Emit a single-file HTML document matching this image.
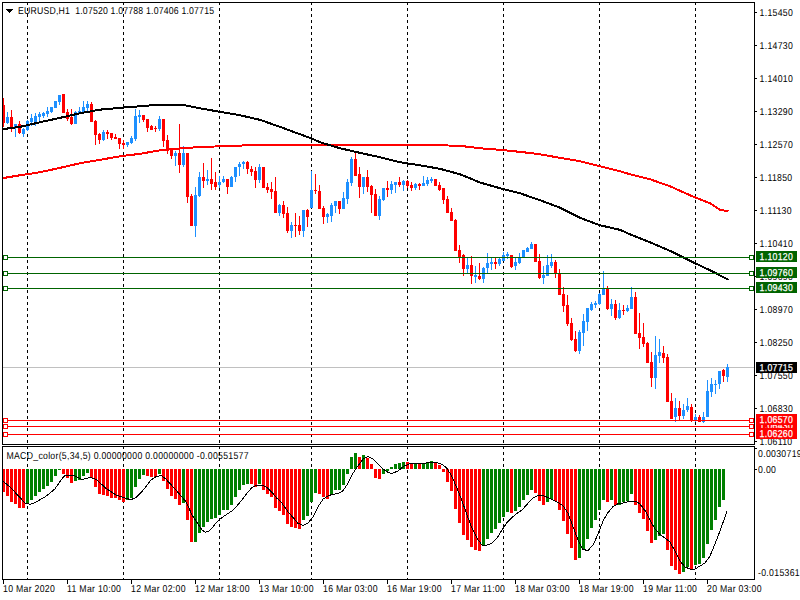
<!DOCTYPE html>
<html><head><meta charset="utf-8"><style>
html,body{margin:0;padding:0;background:#fff;width:800px;height:600px;overflow:hidden}
svg{display:block}
text{font-family:"Liberation Sans",sans-serif}
</style></head><body>
<svg width="800" height="600" viewBox="0 0 800 600" shape-rendering="crispEdges">
<rect x="0" y="0" width="800" height="600" fill="#fff"/>
<rect x="27" y="3" width="1" height="2" fill="#000"/>
<rect x="27" y="8" width="1" height="3" fill="#000"/>
<rect x="27" y="14" width="1" height="3" fill="#000"/>
<rect x="27" y="20" width="1" height="3" fill="#000"/>
<rect x="27" y="26" width="1" height="3" fill="#000"/>
<rect x="27" y="32" width="1" height="3" fill="#000"/>
<rect x="27" y="38" width="1" height="3" fill="#000"/>
<rect x="27" y="44" width="1" height="3" fill="#000"/>
<rect x="27" y="50" width="1" height="3" fill="#000"/>
<rect x="27" y="56" width="1" height="3" fill="#000"/>
<rect x="27" y="62" width="1" height="3" fill="#000"/>
<rect x="27" y="68" width="1" height="3" fill="#000"/>
<rect x="27" y="74" width="1" height="3" fill="#000"/>
<rect x="27" y="80" width="1" height="3" fill="#000"/>
<rect x="27" y="86" width="1" height="3" fill="#000"/>
<rect x="27" y="92" width="1" height="3" fill="#000"/>
<rect x="27" y="98" width="1" height="3" fill="#000"/>
<rect x="27" y="104" width="1" height="3" fill="#000"/>
<rect x="27" y="110" width="1" height="3" fill="#000"/>
<rect x="27" y="116" width="1" height="3" fill="#000"/>
<rect x="27" y="122" width="1" height="3" fill="#000"/>
<rect x="27" y="128" width="1" height="3" fill="#000"/>
<rect x="27" y="134" width="1" height="3" fill="#000"/>
<rect x="27" y="140" width="1" height="3" fill="#000"/>
<rect x="27" y="146" width="1" height="3" fill="#000"/>
<rect x="27" y="152" width="1" height="3" fill="#000"/>
<rect x="27" y="158" width="1" height="3" fill="#000"/>
<rect x="27" y="164" width="1" height="3" fill="#000"/>
<rect x="27" y="170" width="1" height="3" fill="#000"/>
<rect x="27" y="176" width="1" height="3" fill="#000"/>
<rect x="27" y="182" width="1" height="3" fill="#000"/>
<rect x="27" y="188" width="1" height="3" fill="#000"/>
<rect x="27" y="194" width="1" height="3" fill="#000"/>
<rect x="27" y="200" width="1" height="3" fill="#000"/>
<rect x="27" y="206" width="1" height="3" fill="#000"/>
<rect x="27" y="212" width="1" height="3" fill="#000"/>
<rect x="27" y="218" width="1" height="3" fill="#000"/>
<rect x="27" y="224" width="1" height="3" fill="#000"/>
<rect x="27" y="230" width="1" height="3" fill="#000"/>
<rect x="27" y="236" width="1" height="3" fill="#000"/>
<rect x="27" y="242" width="1" height="3" fill="#000"/>
<rect x="27" y="248" width="1" height="3" fill="#000"/>
<rect x="27" y="254" width="1" height="3" fill="#000"/>
<rect x="27" y="260" width="1" height="3" fill="#000"/>
<rect x="27" y="266" width="1" height="3" fill="#000"/>
<rect x="27" y="272" width="1" height="3" fill="#000"/>
<rect x="27" y="278" width="1" height="3" fill="#000"/>
<rect x="27" y="284" width="1" height="3" fill="#000"/>
<rect x="27" y="290" width="1" height="3" fill="#000"/>
<rect x="27" y="296" width="1" height="3" fill="#000"/>
<rect x="27" y="302" width="1" height="3" fill="#000"/>
<rect x="27" y="308" width="1" height="3" fill="#000"/>
<rect x="27" y="314" width="1" height="3" fill="#000"/>
<rect x="27" y="320" width="1" height="3" fill="#000"/>
<rect x="27" y="326" width="1" height="3" fill="#000"/>
<rect x="27" y="332" width="1" height="3" fill="#000"/>
<rect x="27" y="338" width="1" height="3" fill="#000"/>
<rect x="27" y="344" width="1" height="3" fill="#000"/>
<rect x="27" y="350" width="1" height="3" fill="#000"/>
<rect x="27" y="356" width="1" height="3" fill="#000"/>
<rect x="27" y="362" width="1" height="3" fill="#000"/>
<rect x="27" y="368" width="1" height="3" fill="#000"/>
<rect x="27" y="374" width="1" height="3" fill="#000"/>
<rect x="27" y="380" width="1" height="3" fill="#000"/>
<rect x="27" y="386" width="1" height="3" fill="#000"/>
<rect x="27" y="392" width="1" height="3" fill="#000"/>
<rect x="27" y="398" width="1" height="3" fill="#000"/>
<rect x="27" y="404" width="1" height="3" fill="#000"/>
<rect x="27" y="410" width="1" height="3" fill="#000"/>
<rect x="27" y="416" width="1" height="3" fill="#000"/>
<rect x="27" y="422" width="1" height="3" fill="#000"/>
<rect x="27" y="428" width="1" height="3" fill="#000"/>
<rect x="27" y="434" width="1" height="3" fill="#000"/>
<rect x="27" y="440" width="1" height="3" fill="#000"/>
<rect x="27" y="447" width="1" height="2" fill="#000"/>
<rect x="27" y="452" width="1" height="3" fill="#000"/>
<rect x="27" y="458" width="1" height="3" fill="#000"/>
<rect x="27" y="464" width="1" height="3" fill="#000"/>
<rect x="27" y="470" width="1" height="3" fill="#000"/>
<rect x="27" y="476" width="1" height="3" fill="#000"/>
<rect x="27" y="482" width="1" height="3" fill="#000"/>
<rect x="27" y="488" width="1" height="3" fill="#000"/>
<rect x="27" y="494" width="1" height="3" fill="#000"/>
<rect x="27" y="500" width="1" height="3" fill="#000"/>
<rect x="27" y="506" width="1" height="3" fill="#000"/>
<rect x="27" y="512" width="1" height="3" fill="#000"/>
<rect x="27" y="518" width="1" height="3" fill="#000"/>
<rect x="27" y="524" width="1" height="3" fill="#000"/>
<rect x="27" y="530" width="1" height="3" fill="#000"/>
<rect x="27" y="536" width="1" height="3" fill="#000"/>
<rect x="27" y="542" width="1" height="3" fill="#000"/>
<rect x="27" y="548" width="1" height="3" fill="#000"/>
<rect x="27" y="554" width="1" height="3" fill="#000"/>
<rect x="27" y="560" width="1" height="3" fill="#000"/>
<rect x="27" y="566" width="1" height="3" fill="#000"/>
<rect x="27" y="572" width="1" height="3" fill="#000"/>
<rect x="27" y="578" width="1" height="1" fill="#000"/>
<rect x="123" y="3" width="1" height="2" fill="#000"/>
<rect x="123" y="8" width="1" height="3" fill="#000"/>
<rect x="123" y="14" width="1" height="3" fill="#000"/>
<rect x="123" y="20" width="1" height="3" fill="#000"/>
<rect x="123" y="26" width="1" height="3" fill="#000"/>
<rect x="123" y="32" width="1" height="3" fill="#000"/>
<rect x="123" y="38" width="1" height="3" fill="#000"/>
<rect x="123" y="44" width="1" height="3" fill="#000"/>
<rect x="123" y="50" width="1" height="3" fill="#000"/>
<rect x="123" y="56" width="1" height="3" fill="#000"/>
<rect x="123" y="62" width="1" height="3" fill="#000"/>
<rect x="123" y="68" width="1" height="3" fill="#000"/>
<rect x="123" y="74" width="1" height="3" fill="#000"/>
<rect x="123" y="80" width="1" height="3" fill="#000"/>
<rect x="123" y="86" width="1" height="3" fill="#000"/>
<rect x="123" y="92" width="1" height="3" fill="#000"/>
<rect x="123" y="98" width="1" height="3" fill="#000"/>
<rect x="123" y="104" width="1" height="3" fill="#000"/>
<rect x="123" y="110" width="1" height="3" fill="#000"/>
<rect x="123" y="116" width="1" height="3" fill="#000"/>
<rect x="123" y="122" width="1" height="3" fill="#000"/>
<rect x="123" y="128" width="1" height="3" fill="#000"/>
<rect x="123" y="134" width="1" height="3" fill="#000"/>
<rect x="123" y="140" width="1" height="3" fill="#000"/>
<rect x="123" y="146" width="1" height="3" fill="#000"/>
<rect x="123" y="152" width="1" height="3" fill="#000"/>
<rect x="123" y="158" width="1" height="3" fill="#000"/>
<rect x="123" y="164" width="1" height="3" fill="#000"/>
<rect x="123" y="170" width="1" height="3" fill="#000"/>
<rect x="123" y="176" width="1" height="3" fill="#000"/>
<rect x="123" y="182" width="1" height="3" fill="#000"/>
<rect x="123" y="188" width="1" height="3" fill="#000"/>
<rect x="123" y="194" width="1" height="3" fill="#000"/>
<rect x="123" y="200" width="1" height="3" fill="#000"/>
<rect x="123" y="206" width="1" height="3" fill="#000"/>
<rect x="123" y="212" width="1" height="3" fill="#000"/>
<rect x="123" y="218" width="1" height="3" fill="#000"/>
<rect x="123" y="224" width="1" height="3" fill="#000"/>
<rect x="123" y="230" width="1" height="3" fill="#000"/>
<rect x="123" y="236" width="1" height="3" fill="#000"/>
<rect x="123" y="242" width="1" height="3" fill="#000"/>
<rect x="123" y="248" width="1" height="3" fill="#000"/>
<rect x="123" y="254" width="1" height="3" fill="#000"/>
<rect x="123" y="260" width="1" height="3" fill="#000"/>
<rect x="123" y="266" width="1" height="3" fill="#000"/>
<rect x="123" y="272" width="1" height="3" fill="#000"/>
<rect x="123" y="278" width="1" height="3" fill="#000"/>
<rect x="123" y="284" width="1" height="3" fill="#000"/>
<rect x="123" y="290" width="1" height="3" fill="#000"/>
<rect x="123" y="296" width="1" height="3" fill="#000"/>
<rect x="123" y="302" width="1" height="3" fill="#000"/>
<rect x="123" y="308" width="1" height="3" fill="#000"/>
<rect x="123" y="314" width="1" height="3" fill="#000"/>
<rect x="123" y="320" width="1" height="3" fill="#000"/>
<rect x="123" y="326" width="1" height="3" fill="#000"/>
<rect x="123" y="332" width="1" height="3" fill="#000"/>
<rect x="123" y="338" width="1" height="3" fill="#000"/>
<rect x="123" y="344" width="1" height="3" fill="#000"/>
<rect x="123" y="350" width="1" height="3" fill="#000"/>
<rect x="123" y="356" width="1" height="3" fill="#000"/>
<rect x="123" y="362" width="1" height="3" fill="#000"/>
<rect x="123" y="368" width="1" height="3" fill="#000"/>
<rect x="123" y="374" width="1" height="3" fill="#000"/>
<rect x="123" y="380" width="1" height="3" fill="#000"/>
<rect x="123" y="386" width="1" height="3" fill="#000"/>
<rect x="123" y="392" width="1" height="3" fill="#000"/>
<rect x="123" y="398" width="1" height="3" fill="#000"/>
<rect x="123" y="404" width="1" height="3" fill="#000"/>
<rect x="123" y="410" width="1" height="3" fill="#000"/>
<rect x="123" y="416" width="1" height="3" fill="#000"/>
<rect x="123" y="422" width="1" height="3" fill="#000"/>
<rect x="123" y="428" width="1" height="3" fill="#000"/>
<rect x="123" y="434" width="1" height="3" fill="#000"/>
<rect x="123" y="440" width="1" height="3" fill="#000"/>
<rect x="123" y="447" width="1" height="2" fill="#000"/>
<rect x="123" y="452" width="1" height="3" fill="#000"/>
<rect x="123" y="458" width="1" height="3" fill="#000"/>
<rect x="123" y="464" width="1" height="3" fill="#000"/>
<rect x="123" y="470" width="1" height="3" fill="#000"/>
<rect x="123" y="476" width="1" height="3" fill="#000"/>
<rect x="123" y="482" width="1" height="3" fill="#000"/>
<rect x="123" y="488" width="1" height="3" fill="#000"/>
<rect x="123" y="494" width="1" height="3" fill="#000"/>
<rect x="123" y="500" width="1" height="3" fill="#000"/>
<rect x="123" y="506" width="1" height="3" fill="#000"/>
<rect x="123" y="512" width="1" height="3" fill="#000"/>
<rect x="123" y="518" width="1" height="3" fill="#000"/>
<rect x="123" y="524" width="1" height="3" fill="#000"/>
<rect x="123" y="530" width="1" height="3" fill="#000"/>
<rect x="123" y="536" width="1" height="3" fill="#000"/>
<rect x="123" y="542" width="1" height="3" fill="#000"/>
<rect x="123" y="548" width="1" height="3" fill="#000"/>
<rect x="123" y="554" width="1" height="3" fill="#000"/>
<rect x="123" y="560" width="1" height="3" fill="#000"/>
<rect x="123" y="566" width="1" height="3" fill="#000"/>
<rect x="123" y="572" width="1" height="3" fill="#000"/>
<rect x="123" y="578" width="1" height="1" fill="#000"/>
<rect x="219" y="3" width="1" height="2" fill="#000"/>
<rect x="219" y="8" width="1" height="3" fill="#000"/>
<rect x="219" y="14" width="1" height="3" fill="#000"/>
<rect x="219" y="20" width="1" height="3" fill="#000"/>
<rect x="219" y="26" width="1" height="3" fill="#000"/>
<rect x="219" y="32" width="1" height="3" fill="#000"/>
<rect x="219" y="38" width="1" height="3" fill="#000"/>
<rect x="219" y="44" width="1" height="3" fill="#000"/>
<rect x="219" y="50" width="1" height="3" fill="#000"/>
<rect x="219" y="56" width="1" height="3" fill="#000"/>
<rect x="219" y="62" width="1" height="3" fill="#000"/>
<rect x="219" y="68" width="1" height="3" fill="#000"/>
<rect x="219" y="74" width="1" height="3" fill="#000"/>
<rect x="219" y="80" width="1" height="3" fill="#000"/>
<rect x="219" y="86" width="1" height="3" fill="#000"/>
<rect x="219" y="92" width="1" height="3" fill="#000"/>
<rect x="219" y="98" width="1" height="3" fill="#000"/>
<rect x="219" y="104" width="1" height="3" fill="#000"/>
<rect x="219" y="110" width="1" height="3" fill="#000"/>
<rect x="219" y="116" width="1" height="3" fill="#000"/>
<rect x="219" y="122" width="1" height="3" fill="#000"/>
<rect x="219" y="128" width="1" height="3" fill="#000"/>
<rect x="219" y="134" width="1" height="3" fill="#000"/>
<rect x="219" y="140" width="1" height="3" fill="#000"/>
<rect x="219" y="146" width="1" height="3" fill="#000"/>
<rect x="219" y="152" width="1" height="3" fill="#000"/>
<rect x="219" y="158" width="1" height="3" fill="#000"/>
<rect x="219" y="164" width="1" height="3" fill="#000"/>
<rect x="219" y="170" width="1" height="3" fill="#000"/>
<rect x="219" y="176" width="1" height="3" fill="#000"/>
<rect x="219" y="182" width="1" height="3" fill="#000"/>
<rect x="219" y="188" width="1" height="3" fill="#000"/>
<rect x="219" y="194" width="1" height="3" fill="#000"/>
<rect x="219" y="200" width="1" height="3" fill="#000"/>
<rect x="219" y="206" width="1" height="3" fill="#000"/>
<rect x="219" y="212" width="1" height="3" fill="#000"/>
<rect x="219" y="218" width="1" height="3" fill="#000"/>
<rect x="219" y="224" width="1" height="3" fill="#000"/>
<rect x="219" y="230" width="1" height="3" fill="#000"/>
<rect x="219" y="236" width="1" height="3" fill="#000"/>
<rect x="219" y="242" width="1" height="3" fill="#000"/>
<rect x="219" y="248" width="1" height="3" fill="#000"/>
<rect x="219" y="254" width="1" height="3" fill="#000"/>
<rect x="219" y="260" width="1" height="3" fill="#000"/>
<rect x="219" y="266" width="1" height="3" fill="#000"/>
<rect x="219" y="272" width="1" height="3" fill="#000"/>
<rect x="219" y="278" width="1" height="3" fill="#000"/>
<rect x="219" y="284" width="1" height="3" fill="#000"/>
<rect x="219" y="290" width="1" height="3" fill="#000"/>
<rect x="219" y="296" width="1" height="3" fill="#000"/>
<rect x="219" y="302" width="1" height="3" fill="#000"/>
<rect x="219" y="308" width="1" height="3" fill="#000"/>
<rect x="219" y="314" width="1" height="3" fill="#000"/>
<rect x="219" y="320" width="1" height="3" fill="#000"/>
<rect x="219" y="326" width="1" height="3" fill="#000"/>
<rect x="219" y="332" width="1" height="3" fill="#000"/>
<rect x="219" y="338" width="1" height="3" fill="#000"/>
<rect x="219" y="344" width="1" height="3" fill="#000"/>
<rect x="219" y="350" width="1" height="3" fill="#000"/>
<rect x="219" y="356" width="1" height="3" fill="#000"/>
<rect x="219" y="362" width="1" height="3" fill="#000"/>
<rect x="219" y="368" width="1" height="3" fill="#000"/>
<rect x="219" y="374" width="1" height="3" fill="#000"/>
<rect x="219" y="380" width="1" height="3" fill="#000"/>
<rect x="219" y="386" width="1" height="3" fill="#000"/>
<rect x="219" y="392" width="1" height="3" fill="#000"/>
<rect x="219" y="398" width="1" height="3" fill="#000"/>
<rect x="219" y="404" width="1" height="3" fill="#000"/>
<rect x="219" y="410" width="1" height="3" fill="#000"/>
<rect x="219" y="416" width="1" height="3" fill="#000"/>
<rect x="219" y="422" width="1" height="3" fill="#000"/>
<rect x="219" y="428" width="1" height="3" fill="#000"/>
<rect x="219" y="434" width="1" height="3" fill="#000"/>
<rect x="219" y="440" width="1" height="3" fill="#000"/>
<rect x="219" y="447" width="1" height="2" fill="#000"/>
<rect x="219" y="452" width="1" height="3" fill="#000"/>
<rect x="219" y="458" width="1" height="3" fill="#000"/>
<rect x="219" y="464" width="1" height="3" fill="#000"/>
<rect x="219" y="470" width="1" height="3" fill="#000"/>
<rect x="219" y="476" width="1" height="3" fill="#000"/>
<rect x="219" y="482" width="1" height="3" fill="#000"/>
<rect x="219" y="488" width="1" height="3" fill="#000"/>
<rect x="219" y="494" width="1" height="3" fill="#000"/>
<rect x="219" y="500" width="1" height="3" fill="#000"/>
<rect x="219" y="506" width="1" height="3" fill="#000"/>
<rect x="219" y="512" width="1" height="3" fill="#000"/>
<rect x="219" y="518" width="1" height="3" fill="#000"/>
<rect x="219" y="524" width="1" height="3" fill="#000"/>
<rect x="219" y="530" width="1" height="3" fill="#000"/>
<rect x="219" y="536" width="1" height="3" fill="#000"/>
<rect x="219" y="542" width="1" height="3" fill="#000"/>
<rect x="219" y="548" width="1" height="3" fill="#000"/>
<rect x="219" y="554" width="1" height="3" fill="#000"/>
<rect x="219" y="560" width="1" height="3" fill="#000"/>
<rect x="219" y="566" width="1" height="3" fill="#000"/>
<rect x="219" y="572" width="1" height="3" fill="#000"/>
<rect x="219" y="578" width="1" height="1" fill="#000"/>
<rect x="311" y="3" width="1" height="2" fill="#000"/>
<rect x="311" y="8" width="1" height="3" fill="#000"/>
<rect x="311" y="14" width="1" height="3" fill="#000"/>
<rect x="311" y="20" width="1" height="3" fill="#000"/>
<rect x="311" y="26" width="1" height="3" fill="#000"/>
<rect x="311" y="32" width="1" height="3" fill="#000"/>
<rect x="311" y="38" width="1" height="3" fill="#000"/>
<rect x="311" y="44" width="1" height="3" fill="#000"/>
<rect x="311" y="50" width="1" height="3" fill="#000"/>
<rect x="311" y="56" width="1" height="3" fill="#000"/>
<rect x="311" y="62" width="1" height="3" fill="#000"/>
<rect x="311" y="68" width="1" height="3" fill="#000"/>
<rect x="311" y="74" width="1" height="3" fill="#000"/>
<rect x="311" y="80" width="1" height="3" fill="#000"/>
<rect x="311" y="86" width="1" height="3" fill="#000"/>
<rect x="311" y="92" width="1" height="3" fill="#000"/>
<rect x="311" y="98" width="1" height="3" fill="#000"/>
<rect x="311" y="104" width="1" height="3" fill="#000"/>
<rect x="311" y="110" width="1" height="3" fill="#000"/>
<rect x="311" y="116" width="1" height="3" fill="#000"/>
<rect x="311" y="122" width="1" height="3" fill="#000"/>
<rect x="311" y="128" width="1" height="3" fill="#000"/>
<rect x="311" y="134" width="1" height="3" fill="#000"/>
<rect x="311" y="140" width="1" height="3" fill="#000"/>
<rect x="311" y="146" width="1" height="3" fill="#000"/>
<rect x="311" y="152" width="1" height="3" fill="#000"/>
<rect x="311" y="158" width="1" height="3" fill="#000"/>
<rect x="311" y="164" width="1" height="3" fill="#000"/>
<rect x="311" y="170" width="1" height="3" fill="#000"/>
<rect x="311" y="176" width="1" height="3" fill="#000"/>
<rect x="311" y="182" width="1" height="3" fill="#000"/>
<rect x="311" y="188" width="1" height="3" fill="#000"/>
<rect x="311" y="194" width="1" height="3" fill="#000"/>
<rect x="311" y="200" width="1" height="3" fill="#000"/>
<rect x="311" y="206" width="1" height="3" fill="#000"/>
<rect x="311" y="212" width="1" height="3" fill="#000"/>
<rect x="311" y="218" width="1" height="3" fill="#000"/>
<rect x="311" y="224" width="1" height="3" fill="#000"/>
<rect x="311" y="230" width="1" height="3" fill="#000"/>
<rect x="311" y="236" width="1" height="3" fill="#000"/>
<rect x="311" y="242" width="1" height="3" fill="#000"/>
<rect x="311" y="248" width="1" height="3" fill="#000"/>
<rect x="311" y="254" width="1" height="3" fill="#000"/>
<rect x="311" y="260" width="1" height="3" fill="#000"/>
<rect x="311" y="266" width="1" height="3" fill="#000"/>
<rect x="311" y="272" width="1" height="3" fill="#000"/>
<rect x="311" y="278" width="1" height="3" fill="#000"/>
<rect x="311" y="284" width="1" height="3" fill="#000"/>
<rect x="311" y="290" width="1" height="3" fill="#000"/>
<rect x="311" y="296" width="1" height="3" fill="#000"/>
<rect x="311" y="302" width="1" height="3" fill="#000"/>
<rect x="311" y="308" width="1" height="3" fill="#000"/>
<rect x="311" y="314" width="1" height="3" fill="#000"/>
<rect x="311" y="320" width="1" height="3" fill="#000"/>
<rect x="311" y="326" width="1" height="3" fill="#000"/>
<rect x="311" y="332" width="1" height="3" fill="#000"/>
<rect x="311" y="338" width="1" height="3" fill="#000"/>
<rect x="311" y="344" width="1" height="3" fill="#000"/>
<rect x="311" y="350" width="1" height="3" fill="#000"/>
<rect x="311" y="356" width="1" height="3" fill="#000"/>
<rect x="311" y="362" width="1" height="3" fill="#000"/>
<rect x="311" y="368" width="1" height="3" fill="#000"/>
<rect x="311" y="374" width="1" height="3" fill="#000"/>
<rect x="311" y="380" width="1" height="3" fill="#000"/>
<rect x="311" y="386" width="1" height="3" fill="#000"/>
<rect x="311" y="392" width="1" height="3" fill="#000"/>
<rect x="311" y="398" width="1" height="3" fill="#000"/>
<rect x="311" y="404" width="1" height="3" fill="#000"/>
<rect x="311" y="410" width="1" height="3" fill="#000"/>
<rect x="311" y="416" width="1" height="3" fill="#000"/>
<rect x="311" y="422" width="1" height="3" fill="#000"/>
<rect x="311" y="428" width="1" height="3" fill="#000"/>
<rect x="311" y="434" width="1" height="3" fill="#000"/>
<rect x="311" y="440" width="1" height="3" fill="#000"/>
<rect x="311" y="447" width="1" height="2" fill="#000"/>
<rect x="311" y="452" width="1" height="3" fill="#000"/>
<rect x="311" y="458" width="1" height="3" fill="#000"/>
<rect x="311" y="464" width="1" height="3" fill="#000"/>
<rect x="311" y="470" width="1" height="3" fill="#000"/>
<rect x="311" y="476" width="1" height="3" fill="#000"/>
<rect x="311" y="482" width="1" height="3" fill="#000"/>
<rect x="311" y="488" width="1" height="3" fill="#000"/>
<rect x="311" y="494" width="1" height="3" fill="#000"/>
<rect x="311" y="500" width="1" height="3" fill="#000"/>
<rect x="311" y="506" width="1" height="3" fill="#000"/>
<rect x="311" y="512" width="1" height="3" fill="#000"/>
<rect x="311" y="518" width="1" height="3" fill="#000"/>
<rect x="311" y="524" width="1" height="3" fill="#000"/>
<rect x="311" y="530" width="1" height="3" fill="#000"/>
<rect x="311" y="536" width="1" height="3" fill="#000"/>
<rect x="311" y="542" width="1" height="3" fill="#000"/>
<rect x="311" y="548" width="1" height="3" fill="#000"/>
<rect x="311" y="554" width="1" height="3" fill="#000"/>
<rect x="311" y="560" width="1" height="3" fill="#000"/>
<rect x="311" y="566" width="1" height="3" fill="#000"/>
<rect x="311" y="572" width="1" height="3" fill="#000"/>
<rect x="311" y="578" width="1" height="1" fill="#000"/>
<rect x="407" y="3" width="1" height="2" fill="#000"/>
<rect x="407" y="8" width="1" height="3" fill="#000"/>
<rect x="407" y="14" width="1" height="3" fill="#000"/>
<rect x="407" y="20" width="1" height="3" fill="#000"/>
<rect x="407" y="26" width="1" height="3" fill="#000"/>
<rect x="407" y="32" width="1" height="3" fill="#000"/>
<rect x="407" y="38" width="1" height="3" fill="#000"/>
<rect x="407" y="44" width="1" height="3" fill="#000"/>
<rect x="407" y="50" width="1" height="3" fill="#000"/>
<rect x="407" y="56" width="1" height="3" fill="#000"/>
<rect x="407" y="62" width="1" height="3" fill="#000"/>
<rect x="407" y="68" width="1" height="3" fill="#000"/>
<rect x="407" y="74" width="1" height="3" fill="#000"/>
<rect x="407" y="80" width="1" height="3" fill="#000"/>
<rect x="407" y="86" width="1" height="3" fill="#000"/>
<rect x="407" y="92" width="1" height="3" fill="#000"/>
<rect x="407" y="98" width="1" height="3" fill="#000"/>
<rect x="407" y="104" width="1" height="3" fill="#000"/>
<rect x="407" y="110" width="1" height="3" fill="#000"/>
<rect x="407" y="116" width="1" height="3" fill="#000"/>
<rect x="407" y="122" width="1" height="3" fill="#000"/>
<rect x="407" y="128" width="1" height="3" fill="#000"/>
<rect x="407" y="134" width="1" height="3" fill="#000"/>
<rect x="407" y="140" width="1" height="3" fill="#000"/>
<rect x="407" y="146" width="1" height="3" fill="#000"/>
<rect x="407" y="152" width="1" height="3" fill="#000"/>
<rect x="407" y="158" width="1" height="3" fill="#000"/>
<rect x="407" y="164" width="1" height="3" fill="#000"/>
<rect x="407" y="170" width="1" height="3" fill="#000"/>
<rect x="407" y="176" width="1" height="3" fill="#000"/>
<rect x="407" y="182" width="1" height="3" fill="#000"/>
<rect x="407" y="188" width="1" height="3" fill="#000"/>
<rect x="407" y="194" width="1" height="3" fill="#000"/>
<rect x="407" y="200" width="1" height="3" fill="#000"/>
<rect x="407" y="206" width="1" height="3" fill="#000"/>
<rect x="407" y="212" width="1" height="3" fill="#000"/>
<rect x="407" y="218" width="1" height="3" fill="#000"/>
<rect x="407" y="224" width="1" height="3" fill="#000"/>
<rect x="407" y="230" width="1" height="3" fill="#000"/>
<rect x="407" y="236" width="1" height="3" fill="#000"/>
<rect x="407" y="242" width="1" height="3" fill="#000"/>
<rect x="407" y="248" width="1" height="3" fill="#000"/>
<rect x="407" y="254" width="1" height="3" fill="#000"/>
<rect x="407" y="260" width="1" height="3" fill="#000"/>
<rect x="407" y="266" width="1" height="3" fill="#000"/>
<rect x="407" y="272" width="1" height="3" fill="#000"/>
<rect x="407" y="278" width="1" height="3" fill="#000"/>
<rect x="407" y="284" width="1" height="3" fill="#000"/>
<rect x="407" y="290" width="1" height="3" fill="#000"/>
<rect x="407" y="296" width="1" height="3" fill="#000"/>
<rect x="407" y="302" width="1" height="3" fill="#000"/>
<rect x="407" y="308" width="1" height="3" fill="#000"/>
<rect x="407" y="314" width="1" height="3" fill="#000"/>
<rect x="407" y="320" width="1" height="3" fill="#000"/>
<rect x="407" y="326" width="1" height="3" fill="#000"/>
<rect x="407" y="332" width="1" height="3" fill="#000"/>
<rect x="407" y="338" width="1" height="3" fill="#000"/>
<rect x="407" y="344" width="1" height="3" fill="#000"/>
<rect x="407" y="350" width="1" height="3" fill="#000"/>
<rect x="407" y="356" width="1" height="3" fill="#000"/>
<rect x="407" y="362" width="1" height="3" fill="#000"/>
<rect x="407" y="368" width="1" height="3" fill="#000"/>
<rect x="407" y="374" width="1" height="3" fill="#000"/>
<rect x="407" y="380" width="1" height="3" fill="#000"/>
<rect x="407" y="386" width="1" height="3" fill="#000"/>
<rect x="407" y="392" width="1" height="3" fill="#000"/>
<rect x="407" y="398" width="1" height="3" fill="#000"/>
<rect x="407" y="404" width="1" height="3" fill="#000"/>
<rect x="407" y="410" width="1" height="3" fill="#000"/>
<rect x="407" y="416" width="1" height="3" fill="#000"/>
<rect x="407" y="422" width="1" height="3" fill="#000"/>
<rect x="407" y="428" width="1" height="3" fill="#000"/>
<rect x="407" y="434" width="1" height="3" fill="#000"/>
<rect x="407" y="440" width="1" height="3" fill="#000"/>
<rect x="407" y="447" width="1" height="2" fill="#000"/>
<rect x="407" y="452" width="1" height="3" fill="#000"/>
<rect x="407" y="458" width="1" height="3" fill="#000"/>
<rect x="407" y="464" width="1" height="3" fill="#000"/>
<rect x="407" y="470" width="1" height="3" fill="#000"/>
<rect x="407" y="476" width="1" height="3" fill="#000"/>
<rect x="407" y="482" width="1" height="3" fill="#000"/>
<rect x="407" y="488" width="1" height="3" fill="#000"/>
<rect x="407" y="494" width="1" height="3" fill="#000"/>
<rect x="407" y="500" width="1" height="3" fill="#000"/>
<rect x="407" y="506" width="1" height="3" fill="#000"/>
<rect x="407" y="512" width="1" height="3" fill="#000"/>
<rect x="407" y="518" width="1" height="3" fill="#000"/>
<rect x="407" y="524" width="1" height="3" fill="#000"/>
<rect x="407" y="530" width="1" height="3" fill="#000"/>
<rect x="407" y="536" width="1" height="3" fill="#000"/>
<rect x="407" y="542" width="1" height="3" fill="#000"/>
<rect x="407" y="548" width="1" height="3" fill="#000"/>
<rect x="407" y="554" width="1" height="3" fill="#000"/>
<rect x="407" y="560" width="1" height="3" fill="#000"/>
<rect x="407" y="566" width="1" height="3" fill="#000"/>
<rect x="407" y="572" width="1" height="3" fill="#000"/>
<rect x="407" y="578" width="1" height="1" fill="#000"/>
<rect x="503" y="3" width="1" height="2" fill="#000"/>
<rect x="503" y="8" width="1" height="3" fill="#000"/>
<rect x="503" y="14" width="1" height="3" fill="#000"/>
<rect x="503" y="20" width="1" height="3" fill="#000"/>
<rect x="503" y="26" width="1" height="3" fill="#000"/>
<rect x="503" y="32" width="1" height="3" fill="#000"/>
<rect x="503" y="38" width="1" height="3" fill="#000"/>
<rect x="503" y="44" width="1" height="3" fill="#000"/>
<rect x="503" y="50" width="1" height="3" fill="#000"/>
<rect x="503" y="56" width="1" height="3" fill="#000"/>
<rect x="503" y="62" width="1" height="3" fill="#000"/>
<rect x="503" y="68" width="1" height="3" fill="#000"/>
<rect x="503" y="74" width="1" height="3" fill="#000"/>
<rect x="503" y="80" width="1" height="3" fill="#000"/>
<rect x="503" y="86" width="1" height="3" fill="#000"/>
<rect x="503" y="92" width="1" height="3" fill="#000"/>
<rect x="503" y="98" width="1" height="3" fill="#000"/>
<rect x="503" y="104" width="1" height="3" fill="#000"/>
<rect x="503" y="110" width="1" height="3" fill="#000"/>
<rect x="503" y="116" width="1" height="3" fill="#000"/>
<rect x="503" y="122" width="1" height="3" fill="#000"/>
<rect x="503" y="128" width="1" height="3" fill="#000"/>
<rect x="503" y="134" width="1" height="3" fill="#000"/>
<rect x="503" y="140" width="1" height="3" fill="#000"/>
<rect x="503" y="146" width="1" height="3" fill="#000"/>
<rect x="503" y="152" width="1" height="3" fill="#000"/>
<rect x="503" y="158" width="1" height="3" fill="#000"/>
<rect x="503" y="164" width="1" height="3" fill="#000"/>
<rect x="503" y="170" width="1" height="3" fill="#000"/>
<rect x="503" y="176" width="1" height="3" fill="#000"/>
<rect x="503" y="182" width="1" height="3" fill="#000"/>
<rect x="503" y="188" width="1" height="3" fill="#000"/>
<rect x="503" y="194" width="1" height="3" fill="#000"/>
<rect x="503" y="200" width="1" height="3" fill="#000"/>
<rect x="503" y="206" width="1" height="3" fill="#000"/>
<rect x="503" y="212" width="1" height="3" fill="#000"/>
<rect x="503" y="218" width="1" height="3" fill="#000"/>
<rect x="503" y="224" width="1" height="3" fill="#000"/>
<rect x="503" y="230" width="1" height="3" fill="#000"/>
<rect x="503" y="236" width="1" height="3" fill="#000"/>
<rect x="503" y="242" width="1" height="3" fill="#000"/>
<rect x="503" y="248" width="1" height="3" fill="#000"/>
<rect x="503" y="254" width="1" height="3" fill="#000"/>
<rect x="503" y="260" width="1" height="3" fill="#000"/>
<rect x="503" y="266" width="1" height="3" fill="#000"/>
<rect x="503" y="272" width="1" height="3" fill="#000"/>
<rect x="503" y="278" width="1" height="3" fill="#000"/>
<rect x="503" y="284" width="1" height="3" fill="#000"/>
<rect x="503" y="290" width="1" height="3" fill="#000"/>
<rect x="503" y="296" width="1" height="3" fill="#000"/>
<rect x="503" y="302" width="1" height="3" fill="#000"/>
<rect x="503" y="308" width="1" height="3" fill="#000"/>
<rect x="503" y="314" width="1" height="3" fill="#000"/>
<rect x="503" y="320" width="1" height="3" fill="#000"/>
<rect x="503" y="326" width="1" height="3" fill="#000"/>
<rect x="503" y="332" width="1" height="3" fill="#000"/>
<rect x="503" y="338" width="1" height="3" fill="#000"/>
<rect x="503" y="344" width="1" height="3" fill="#000"/>
<rect x="503" y="350" width="1" height="3" fill="#000"/>
<rect x="503" y="356" width="1" height="3" fill="#000"/>
<rect x="503" y="362" width="1" height="3" fill="#000"/>
<rect x="503" y="368" width="1" height="3" fill="#000"/>
<rect x="503" y="374" width="1" height="3" fill="#000"/>
<rect x="503" y="380" width="1" height="3" fill="#000"/>
<rect x="503" y="386" width="1" height="3" fill="#000"/>
<rect x="503" y="392" width="1" height="3" fill="#000"/>
<rect x="503" y="398" width="1" height="3" fill="#000"/>
<rect x="503" y="404" width="1" height="3" fill="#000"/>
<rect x="503" y="410" width="1" height="3" fill="#000"/>
<rect x="503" y="416" width="1" height="3" fill="#000"/>
<rect x="503" y="422" width="1" height="3" fill="#000"/>
<rect x="503" y="428" width="1" height="3" fill="#000"/>
<rect x="503" y="434" width="1" height="3" fill="#000"/>
<rect x="503" y="440" width="1" height="3" fill="#000"/>
<rect x="503" y="447" width="1" height="2" fill="#000"/>
<rect x="503" y="452" width="1" height="3" fill="#000"/>
<rect x="503" y="458" width="1" height="3" fill="#000"/>
<rect x="503" y="464" width="1" height="3" fill="#000"/>
<rect x="503" y="470" width="1" height="3" fill="#000"/>
<rect x="503" y="476" width="1" height="3" fill="#000"/>
<rect x="503" y="482" width="1" height="3" fill="#000"/>
<rect x="503" y="488" width="1" height="3" fill="#000"/>
<rect x="503" y="494" width="1" height="3" fill="#000"/>
<rect x="503" y="500" width="1" height="3" fill="#000"/>
<rect x="503" y="506" width="1" height="3" fill="#000"/>
<rect x="503" y="512" width="1" height="3" fill="#000"/>
<rect x="503" y="518" width="1" height="3" fill="#000"/>
<rect x="503" y="524" width="1" height="3" fill="#000"/>
<rect x="503" y="530" width="1" height="3" fill="#000"/>
<rect x="503" y="536" width="1" height="3" fill="#000"/>
<rect x="503" y="542" width="1" height="3" fill="#000"/>
<rect x="503" y="548" width="1" height="3" fill="#000"/>
<rect x="503" y="554" width="1" height="3" fill="#000"/>
<rect x="503" y="560" width="1" height="3" fill="#000"/>
<rect x="503" y="566" width="1" height="3" fill="#000"/>
<rect x="503" y="572" width="1" height="3" fill="#000"/>
<rect x="503" y="578" width="1" height="1" fill="#000"/>
<rect x="599" y="3" width="1" height="2" fill="#000"/>
<rect x="599" y="8" width="1" height="3" fill="#000"/>
<rect x="599" y="14" width="1" height="3" fill="#000"/>
<rect x="599" y="20" width="1" height="3" fill="#000"/>
<rect x="599" y="26" width="1" height="3" fill="#000"/>
<rect x="599" y="32" width="1" height="3" fill="#000"/>
<rect x="599" y="38" width="1" height="3" fill="#000"/>
<rect x="599" y="44" width="1" height="3" fill="#000"/>
<rect x="599" y="50" width="1" height="3" fill="#000"/>
<rect x="599" y="56" width="1" height="3" fill="#000"/>
<rect x="599" y="62" width="1" height="3" fill="#000"/>
<rect x="599" y="68" width="1" height="3" fill="#000"/>
<rect x="599" y="74" width="1" height="3" fill="#000"/>
<rect x="599" y="80" width="1" height="3" fill="#000"/>
<rect x="599" y="86" width="1" height="3" fill="#000"/>
<rect x="599" y="92" width="1" height="3" fill="#000"/>
<rect x="599" y="98" width="1" height="3" fill="#000"/>
<rect x="599" y="104" width="1" height="3" fill="#000"/>
<rect x="599" y="110" width="1" height="3" fill="#000"/>
<rect x="599" y="116" width="1" height="3" fill="#000"/>
<rect x="599" y="122" width="1" height="3" fill="#000"/>
<rect x="599" y="128" width="1" height="3" fill="#000"/>
<rect x="599" y="134" width="1" height="3" fill="#000"/>
<rect x="599" y="140" width="1" height="3" fill="#000"/>
<rect x="599" y="146" width="1" height="3" fill="#000"/>
<rect x="599" y="152" width="1" height="3" fill="#000"/>
<rect x="599" y="158" width="1" height="3" fill="#000"/>
<rect x="599" y="164" width="1" height="3" fill="#000"/>
<rect x="599" y="170" width="1" height="3" fill="#000"/>
<rect x="599" y="176" width="1" height="3" fill="#000"/>
<rect x="599" y="182" width="1" height="3" fill="#000"/>
<rect x="599" y="188" width="1" height="3" fill="#000"/>
<rect x="599" y="194" width="1" height="3" fill="#000"/>
<rect x="599" y="200" width="1" height="3" fill="#000"/>
<rect x="599" y="206" width="1" height="3" fill="#000"/>
<rect x="599" y="212" width="1" height="3" fill="#000"/>
<rect x="599" y="218" width="1" height="3" fill="#000"/>
<rect x="599" y="224" width="1" height="3" fill="#000"/>
<rect x="599" y="230" width="1" height="3" fill="#000"/>
<rect x="599" y="236" width="1" height="3" fill="#000"/>
<rect x="599" y="242" width="1" height="3" fill="#000"/>
<rect x="599" y="248" width="1" height="3" fill="#000"/>
<rect x="599" y="254" width="1" height="3" fill="#000"/>
<rect x="599" y="260" width="1" height="3" fill="#000"/>
<rect x="599" y="266" width="1" height="3" fill="#000"/>
<rect x="599" y="272" width="1" height="3" fill="#000"/>
<rect x="599" y="278" width="1" height="3" fill="#000"/>
<rect x="599" y="284" width="1" height="3" fill="#000"/>
<rect x="599" y="290" width="1" height="3" fill="#000"/>
<rect x="599" y="296" width="1" height="3" fill="#000"/>
<rect x="599" y="302" width="1" height="3" fill="#000"/>
<rect x="599" y="308" width="1" height="3" fill="#000"/>
<rect x="599" y="314" width="1" height="3" fill="#000"/>
<rect x="599" y="320" width="1" height="3" fill="#000"/>
<rect x="599" y="326" width="1" height="3" fill="#000"/>
<rect x="599" y="332" width="1" height="3" fill="#000"/>
<rect x="599" y="338" width="1" height="3" fill="#000"/>
<rect x="599" y="344" width="1" height="3" fill="#000"/>
<rect x="599" y="350" width="1" height="3" fill="#000"/>
<rect x="599" y="356" width="1" height="3" fill="#000"/>
<rect x="599" y="362" width="1" height="3" fill="#000"/>
<rect x="599" y="368" width="1" height="3" fill="#000"/>
<rect x="599" y="374" width="1" height="3" fill="#000"/>
<rect x="599" y="380" width="1" height="3" fill="#000"/>
<rect x="599" y="386" width="1" height="3" fill="#000"/>
<rect x="599" y="392" width="1" height="3" fill="#000"/>
<rect x="599" y="398" width="1" height="3" fill="#000"/>
<rect x="599" y="404" width="1" height="3" fill="#000"/>
<rect x="599" y="410" width="1" height="3" fill="#000"/>
<rect x="599" y="416" width="1" height="3" fill="#000"/>
<rect x="599" y="422" width="1" height="3" fill="#000"/>
<rect x="599" y="428" width="1" height="3" fill="#000"/>
<rect x="599" y="434" width="1" height="3" fill="#000"/>
<rect x="599" y="440" width="1" height="3" fill="#000"/>
<rect x="599" y="447" width="1" height="2" fill="#000"/>
<rect x="599" y="452" width="1" height="3" fill="#000"/>
<rect x="599" y="458" width="1" height="3" fill="#000"/>
<rect x="599" y="464" width="1" height="3" fill="#000"/>
<rect x="599" y="470" width="1" height="3" fill="#000"/>
<rect x="599" y="476" width="1" height="3" fill="#000"/>
<rect x="599" y="482" width="1" height="3" fill="#000"/>
<rect x="599" y="488" width="1" height="3" fill="#000"/>
<rect x="599" y="494" width="1" height="3" fill="#000"/>
<rect x="599" y="500" width="1" height="3" fill="#000"/>
<rect x="599" y="506" width="1" height="3" fill="#000"/>
<rect x="599" y="512" width="1" height="3" fill="#000"/>
<rect x="599" y="518" width="1" height="3" fill="#000"/>
<rect x="599" y="524" width="1" height="3" fill="#000"/>
<rect x="599" y="530" width="1" height="3" fill="#000"/>
<rect x="599" y="536" width="1" height="3" fill="#000"/>
<rect x="599" y="542" width="1" height="3" fill="#000"/>
<rect x="599" y="548" width="1" height="3" fill="#000"/>
<rect x="599" y="554" width="1" height="3" fill="#000"/>
<rect x="599" y="560" width="1" height="3" fill="#000"/>
<rect x="599" y="566" width="1" height="3" fill="#000"/>
<rect x="599" y="572" width="1" height="3" fill="#000"/>
<rect x="599" y="578" width="1" height="1" fill="#000"/>
<rect x="695" y="3" width="1" height="2" fill="#000"/>
<rect x="695" y="8" width="1" height="3" fill="#000"/>
<rect x="695" y="14" width="1" height="3" fill="#000"/>
<rect x="695" y="20" width="1" height="3" fill="#000"/>
<rect x="695" y="26" width="1" height="3" fill="#000"/>
<rect x="695" y="32" width="1" height="3" fill="#000"/>
<rect x="695" y="38" width="1" height="3" fill="#000"/>
<rect x="695" y="44" width="1" height="3" fill="#000"/>
<rect x="695" y="50" width="1" height="3" fill="#000"/>
<rect x="695" y="56" width="1" height="3" fill="#000"/>
<rect x="695" y="62" width="1" height="3" fill="#000"/>
<rect x="695" y="68" width="1" height="3" fill="#000"/>
<rect x="695" y="74" width="1" height="3" fill="#000"/>
<rect x="695" y="80" width="1" height="3" fill="#000"/>
<rect x="695" y="86" width="1" height="3" fill="#000"/>
<rect x="695" y="92" width="1" height="3" fill="#000"/>
<rect x="695" y="98" width="1" height="3" fill="#000"/>
<rect x="695" y="104" width="1" height="3" fill="#000"/>
<rect x="695" y="110" width="1" height="3" fill="#000"/>
<rect x="695" y="116" width="1" height="3" fill="#000"/>
<rect x="695" y="122" width="1" height="3" fill="#000"/>
<rect x="695" y="128" width="1" height="3" fill="#000"/>
<rect x="695" y="134" width="1" height="3" fill="#000"/>
<rect x="695" y="140" width="1" height="3" fill="#000"/>
<rect x="695" y="146" width="1" height="3" fill="#000"/>
<rect x="695" y="152" width="1" height="3" fill="#000"/>
<rect x="695" y="158" width="1" height="3" fill="#000"/>
<rect x="695" y="164" width="1" height="3" fill="#000"/>
<rect x="695" y="170" width="1" height="3" fill="#000"/>
<rect x="695" y="176" width="1" height="3" fill="#000"/>
<rect x="695" y="182" width="1" height="3" fill="#000"/>
<rect x="695" y="188" width="1" height="3" fill="#000"/>
<rect x="695" y="194" width="1" height="3" fill="#000"/>
<rect x="695" y="200" width="1" height="3" fill="#000"/>
<rect x="695" y="206" width="1" height="3" fill="#000"/>
<rect x="695" y="212" width="1" height="3" fill="#000"/>
<rect x="695" y="218" width="1" height="3" fill="#000"/>
<rect x="695" y="224" width="1" height="3" fill="#000"/>
<rect x="695" y="230" width="1" height="3" fill="#000"/>
<rect x="695" y="236" width="1" height="3" fill="#000"/>
<rect x="695" y="242" width="1" height="3" fill="#000"/>
<rect x="695" y="248" width="1" height="3" fill="#000"/>
<rect x="695" y="254" width="1" height="3" fill="#000"/>
<rect x="695" y="260" width="1" height="3" fill="#000"/>
<rect x="695" y="266" width="1" height="3" fill="#000"/>
<rect x="695" y="272" width="1" height="3" fill="#000"/>
<rect x="695" y="278" width="1" height="3" fill="#000"/>
<rect x="695" y="284" width="1" height="3" fill="#000"/>
<rect x="695" y="290" width="1" height="3" fill="#000"/>
<rect x="695" y="296" width="1" height="3" fill="#000"/>
<rect x="695" y="302" width="1" height="3" fill="#000"/>
<rect x="695" y="308" width="1" height="3" fill="#000"/>
<rect x="695" y="314" width="1" height="3" fill="#000"/>
<rect x="695" y="320" width="1" height="3" fill="#000"/>
<rect x="695" y="326" width="1" height="3" fill="#000"/>
<rect x="695" y="332" width="1" height="3" fill="#000"/>
<rect x="695" y="338" width="1" height="3" fill="#000"/>
<rect x="695" y="344" width="1" height="3" fill="#000"/>
<rect x="695" y="350" width="1" height="3" fill="#000"/>
<rect x="695" y="356" width="1" height="3" fill="#000"/>
<rect x="695" y="362" width="1" height="3" fill="#000"/>
<rect x="695" y="368" width="1" height="3" fill="#000"/>
<rect x="695" y="374" width="1" height="3" fill="#000"/>
<rect x="695" y="380" width="1" height="3" fill="#000"/>
<rect x="695" y="386" width="1" height="3" fill="#000"/>
<rect x="695" y="392" width="1" height="3" fill="#000"/>
<rect x="695" y="398" width="1" height="3" fill="#000"/>
<rect x="695" y="404" width="1" height="3" fill="#000"/>
<rect x="695" y="410" width="1" height="3" fill="#000"/>
<rect x="695" y="416" width="1" height="3" fill="#000"/>
<rect x="695" y="422" width="1" height="3" fill="#000"/>
<rect x="695" y="428" width="1" height="3" fill="#000"/>
<rect x="695" y="434" width="1" height="3" fill="#000"/>
<rect x="695" y="440" width="1" height="3" fill="#000"/>
<rect x="695" y="447" width="1" height="2" fill="#000"/>
<rect x="695" y="452" width="1" height="3" fill="#000"/>
<rect x="695" y="458" width="1" height="3" fill="#000"/>
<rect x="695" y="464" width="1" height="3" fill="#000"/>
<rect x="695" y="470" width="1" height="3" fill="#000"/>
<rect x="695" y="476" width="1" height="3" fill="#000"/>
<rect x="695" y="482" width="1" height="3" fill="#000"/>
<rect x="695" y="488" width="1" height="3" fill="#000"/>
<rect x="695" y="494" width="1" height="3" fill="#000"/>
<rect x="695" y="500" width="1" height="3" fill="#000"/>
<rect x="695" y="506" width="1" height="3" fill="#000"/>
<rect x="695" y="512" width="1" height="3" fill="#000"/>
<rect x="695" y="518" width="1" height="3" fill="#000"/>
<rect x="695" y="524" width="1" height="3" fill="#000"/>
<rect x="695" y="530" width="1" height="3" fill="#000"/>
<rect x="695" y="536" width="1" height="3" fill="#000"/>
<rect x="695" y="542" width="1" height="3" fill="#000"/>
<rect x="695" y="548" width="1" height="3" fill="#000"/>
<rect x="695" y="554" width="1" height="3" fill="#000"/>
<rect x="695" y="560" width="1" height="3" fill="#000"/>
<rect x="695" y="566" width="1" height="3" fill="#000"/>
<rect x="695" y="572" width="1" height="3" fill="#000"/>
<rect x="695" y="578" width="1" height="1" fill="#000"/>
<rect x="3" y="367" width="751" height="1" fill="#c0c0c0"/>
<rect x="3" y="98" width="1" height="29" fill="#ff0000"/>
<rect x="3" y="105" width="2" height="18" fill="#ff0000"/>
<rect x="7" y="112" width="1" height="12" fill="#1e90ff"/>
<rect x="6" y="117" width="3" height="6" fill="#1e90ff"/>
<rect x="11" y="110" width="1" height="22" fill="#ff0000"/>
<rect x="10" y="117" width="3" height="10" fill="#ff0000"/>
<rect x="15" y="124" width="1" height="13" fill="#1e90ff"/>
<rect x="14" y="124" width="3" height="3" fill="#1e90ff"/>
<rect x="19" y="121" width="1" height="13" fill="#ff0000"/>
<rect x="18" y="124" width="3" height="9" fill="#ff0000"/>
<rect x="23" y="128" width="1" height="9" fill="#1e90ff"/>
<rect x="22" y="129" width="3" height="5" fill="#1e90ff"/>
<rect x="27" y="120" width="1" height="11" fill="#1e90ff"/>
<rect x="26" y="121" width="3" height="9" fill="#1e90ff"/>
<rect x="31" y="114" width="1" height="12" fill="#1e90ff"/>
<rect x="30" y="118" width="3" height="4" fill="#1e90ff"/>
<rect x="35" y="113" width="1" height="13" fill="#1e90ff"/>
<rect x="34" y="116" width="3" height="6" fill="#1e90ff"/>
<rect x="39" y="112" width="1" height="9" fill="#1e90ff"/>
<rect x="38" y="114" width="3" height="3" fill="#1e90ff"/>
<rect x="43" y="112" width="1" height="6" fill="#1e90ff"/>
<rect x="42" y="113" width="3" height="3" fill="#1e90ff"/>
<rect x="47" y="107" width="1" height="10" fill="#1e90ff"/>
<rect x="46" y="111" width="3" height="3" fill="#1e90ff"/>
<rect x="51" y="107" width="1" height="6" fill="#1e90ff"/>
<rect x="50" y="107" width="3" height="5" fill="#1e90ff"/>
<rect x="55" y="101" width="1" height="7" fill="#1e90ff"/>
<rect x="54" y="101" width="3" height="7" fill="#1e90ff"/>
<rect x="59" y="95" width="1" height="10" fill="#1e90ff"/>
<rect x="58" y="95" width="3" height="7" fill="#1e90ff"/>
<rect x="63" y="94" width="1" height="19" fill="#ff0000"/>
<rect x="62" y="94" width="3" height="19" fill="#ff0000"/>
<rect x="67" y="109" width="1" height="12" fill="#ff0000"/>
<rect x="66" y="112" width="3" height="7" fill="#ff0000"/>
<rect x="71" y="109" width="1" height="16" fill="#ff0000"/>
<rect x="70" y="117" width="3" height="7" fill="#ff0000"/>
<rect x="75" y="111" width="1" height="13" fill="#1e90ff"/>
<rect x="74" y="112" width="3" height="12" fill="#1e90ff"/>
<rect x="79" y="107" width="1" height="6" fill="#1e90ff"/>
<rect x="78" y="111" width="3" height="2" fill="#1e90ff"/>
<rect x="83" y="101" width="1" height="11" fill="#1e90ff"/>
<rect x="82" y="107" width="3" height="5" fill="#1e90ff"/>
<rect x="87" y="101" width="1" height="10" fill="#1e90ff"/>
<rect x="86" y="104" width="3" height="4" fill="#1e90ff"/>
<rect x="91" y="102" width="1" height="20" fill="#ff0000"/>
<rect x="90" y="104" width="3" height="18" fill="#ff0000"/>
<rect x="95" y="120" width="1" height="25" fill="#ff0000"/>
<rect x="94" y="121" width="3" height="14" fill="#ff0000"/>
<rect x="99" y="133" width="1" height="11" fill="#ff0000"/>
<rect x="98" y="134" width="3" height="6" fill="#ff0000"/>
<rect x="103" y="130" width="1" height="11" fill="#1e90ff"/>
<rect x="102" y="132" width="3" height="8" fill="#1e90ff"/>
<rect x="107" y="130" width="1" height="9" fill="#ff0000"/>
<rect x="106" y="132" width="3" height="2" fill="#ff0000"/>
<rect x="111" y="133" width="1" height="7" fill="#ff0000"/>
<rect x="110" y="133" width="3" height="5" fill="#ff0000"/>
<rect x="115" y="134" width="1" height="5" fill="#ff0000"/>
<rect x="114" y="137" width="3" height="2" fill="#ff0000"/>
<rect x="119" y="138" width="1" height="11" fill="#ff0000"/>
<rect x="118" y="138" width="3" height="6" fill="#ff0000"/>
<rect x="123" y="140" width="1" height="9" fill="#ff0000"/>
<rect x="122" y="143" width="3" height="2" fill="#ff0000"/>
<rect x="127" y="142" width="1" height="5" fill="#1e90ff"/>
<rect x="126" y="142" width="3" height="3" fill="#1e90ff"/>
<rect x="131" y="136" width="1" height="8" fill="#1e90ff"/>
<rect x="130" y="138" width="3" height="5" fill="#1e90ff"/>
<rect x="135" y="109" width="1" height="32" fill="#1e90ff"/>
<rect x="134" y="116" width="3" height="23" fill="#1e90ff"/>
<rect x="139" y="110" width="1" height="13" fill="#1e90ff"/>
<rect x="138" y="115" width="3" height="2" fill="#1e90ff"/>
<rect x="143" y="115" width="1" height="7" fill="#ff0000"/>
<rect x="142" y="115" width="3" height="5" fill="#ff0000"/>
<rect x="147" y="119" width="1" height="13" fill="#ff0000"/>
<rect x="146" y="119" width="3" height="9" fill="#ff0000"/>
<rect x="151" y="125" width="1" height="5" fill="#ff0000"/>
<rect x="150" y="126" width="3" height="4" fill="#ff0000"/>
<rect x="155" y="126" width="1" height="6" fill="#ff0000"/>
<rect x="154" y="128" width="3" height="1" fill="#ff0000"/>
<rect x="159" y="116" width="1" height="15" fill="#1e90ff"/>
<rect x="158" y="119" width="3" height="10" fill="#1e90ff"/>
<rect x="163" y="119" width="1" height="28" fill="#ff0000"/>
<rect x="162" y="119" width="3" height="22" fill="#ff0000"/>
<rect x="167" y="135" width="1" height="19" fill="#ff0000"/>
<rect x="166" y="140" width="3" height="10" fill="#ff0000"/>
<rect x="171" y="149" width="1" height="10" fill="#ff0000"/>
<rect x="170" y="149" width="3" height="7" fill="#ff0000"/>
<rect x="175" y="151" width="1" height="15" fill="#1e90ff"/>
<rect x="174" y="153" width="3" height="3" fill="#1e90ff"/>
<rect x="179" y="124" width="1" height="49" fill="#ff0000"/>
<rect x="178" y="153" width="3" height="12" fill="#ff0000"/>
<rect x="183" y="146" width="1" height="21" fill="#1e90ff"/>
<rect x="182" y="153" width="3" height="12" fill="#1e90ff"/>
<rect x="187" y="153" width="1" height="50" fill="#ff0000"/>
<rect x="186" y="153" width="3" height="44" fill="#ff0000"/>
<rect x="191" y="194" width="1" height="32" fill="#ff0000"/>
<rect x="190" y="196" width="3" height="30" fill="#ff0000"/>
<rect x="195" y="187" width="1" height="50" fill="#1e90ff"/>
<rect x="194" y="195" width="3" height="31" fill="#1e90ff"/>
<rect x="199" y="172" width="1" height="25" fill="#1e90ff"/>
<rect x="198" y="177" width="3" height="19" fill="#1e90ff"/>
<rect x="203" y="163" width="1" height="25" fill="#ff0000"/>
<rect x="202" y="177" width="3" height="4" fill="#ff0000"/>
<rect x="207" y="170" width="1" height="15" fill="#1e90ff"/>
<rect x="206" y="179" width="3" height="2" fill="#1e90ff"/>
<rect x="211" y="158" width="1" height="32" fill="#ff0000"/>
<rect x="210" y="179" width="3" height="5" fill="#ff0000"/>
<rect x="215" y="172" width="1" height="18" fill="#ff0000"/>
<rect x="214" y="182" width="3" height="5" fill="#ff0000"/>
<rect x="219" y="176" width="1" height="12" fill="#1e90ff"/>
<rect x="218" y="182" width="3" height="3" fill="#1e90ff"/>
<rect x="223" y="176" width="1" height="7" fill="#1e90ff"/>
<rect x="222" y="179" width="3" height="3" fill="#1e90ff"/>
<rect x="227" y="179" width="1" height="15" fill="#ff0000"/>
<rect x="226" y="179" width="3" height="8" fill="#ff0000"/>
<rect x="231" y="176" width="1" height="11" fill="#1e90ff"/>
<rect x="230" y="177" width="3" height="10" fill="#1e90ff"/>
<rect x="235" y="167" width="1" height="15" fill="#1e90ff"/>
<rect x="234" y="167" width="3" height="10" fill="#1e90ff"/>
<rect x="239" y="162" width="1" height="14" fill="#1e90ff"/>
<rect x="238" y="164" width="3" height="3" fill="#1e90ff"/>
<rect x="243" y="161" width="1" height="8" fill="#1e90ff"/>
<rect x="242" y="162" width="3" height="2" fill="#1e90ff"/>
<rect x="247" y="161" width="1" height="13" fill="#ff0000"/>
<rect x="246" y="162" width="3" height="7" fill="#ff0000"/>
<rect x="251" y="166" width="1" height="10" fill="#ff0000"/>
<rect x="250" y="169" width="3" height="3" fill="#ff0000"/>
<rect x="255" y="167" width="1" height="21" fill="#ff0000"/>
<rect x="254" y="171" width="3" height="9" fill="#ff0000"/>
<rect x="259" y="164" width="1" height="19" fill="#1e90ff"/>
<rect x="258" y="167" width="3" height="13" fill="#1e90ff"/>
<rect x="263" y="167" width="1" height="21" fill="#ff0000"/>
<rect x="262" y="167" width="3" height="21" fill="#ff0000"/>
<rect x="267" y="183" width="1" height="10" fill="#ff0000"/>
<rect x="266" y="187" width="3" height="3" fill="#ff0000"/>
<rect x="271" y="182" width="1" height="17" fill="#ff0000"/>
<rect x="270" y="189" width="3" height="3" fill="#ff0000"/>
<rect x="275" y="177" width="1" height="36" fill="#ff0000"/>
<rect x="274" y="191" width="3" height="22" fill="#ff0000"/>
<rect x="279" y="204" width="1" height="12" fill="#1e90ff"/>
<rect x="278" y="205" width="3" height="8" fill="#1e90ff"/>
<rect x="283" y="201" width="1" height="17" fill="#ff0000"/>
<rect x="282" y="205" width="3" height="9" fill="#ff0000"/>
<rect x="287" y="207" width="1" height="26" fill="#ff0000"/>
<rect x="286" y="213" width="3" height="18" fill="#ff0000"/>
<rect x="291" y="222" width="1" height="16" fill="#1e90ff"/>
<rect x="290" y="225" width="3" height="6" fill="#1e90ff"/>
<rect x="295" y="213" width="1" height="24" fill="#ff0000"/>
<rect x="294" y="225" width="3" height="1" fill="#ff0000"/>
<rect x="299" y="216" width="1" height="19" fill="#ff0000"/>
<rect x="298" y="225" width="3" height="6" fill="#ff0000"/>
<rect x="303" y="210" width="1" height="27" fill="#1e90ff"/>
<rect x="302" y="210" width="3" height="21" fill="#1e90ff"/>
<rect x="307" y="209" width="1" height="18" fill="#ff0000"/>
<rect x="306" y="210" width="3" height="7" fill="#ff0000"/>
<rect x="311" y="171" width="1" height="37" fill="#1e90ff"/>
<rect x="310" y="190" width="3" height="18" fill="#1e90ff"/>
<rect x="315" y="174" width="1" height="20" fill="#ff0000"/>
<rect x="314" y="190" width="3" height="1" fill="#ff0000"/>
<rect x="319" y="185" width="1" height="24" fill="#ff0000"/>
<rect x="318" y="191" width="3" height="18" fill="#ff0000"/>
<rect x="323" y="206" width="1" height="18" fill="#ff0000"/>
<rect x="322" y="208" width="3" height="9" fill="#ff0000"/>
<rect x="327" y="213" width="1" height="10" fill="#1e90ff"/>
<rect x="326" y="214" width="3" height="3" fill="#1e90ff"/>
<rect x="331" y="203" width="1" height="19" fill="#1e90ff"/>
<rect x="330" y="205" width="3" height="11" fill="#1e90ff"/>
<rect x="335" y="201" width="1" height="12" fill="#1e90ff"/>
<rect x="334" y="201" width="3" height="5" fill="#1e90ff"/>
<rect x="339" y="201" width="1" height="13" fill="#ff0000"/>
<rect x="338" y="201" width="3" height="8" fill="#ff0000"/>
<rect x="343" y="192" width="1" height="17" fill="#1e90ff"/>
<rect x="342" y="198" width="3" height="11" fill="#1e90ff"/>
<rect x="347" y="179" width="1" height="25" fill="#1e90ff"/>
<rect x="346" y="182" width="3" height="17" fill="#1e90ff"/>
<rect x="351" y="157" width="1" height="29" fill="#1e90ff"/>
<rect x="350" y="159" width="3" height="24" fill="#1e90ff"/>
<rect x="355" y="153" width="1" height="23" fill="#ff0000"/>
<rect x="354" y="159" width="3" height="17" fill="#ff0000"/>
<rect x="359" y="167" width="1" height="31" fill="#ff0000"/>
<rect x="358" y="174" width="3" height="13" fill="#ff0000"/>
<rect x="363" y="177" width="1" height="17" fill="#1e90ff"/>
<rect x="362" y="177" width="3" height="10" fill="#1e90ff"/>
<rect x="367" y="170" width="1" height="22" fill="#ff0000"/>
<rect x="366" y="177" width="3" height="10" fill="#ff0000"/>
<rect x="371" y="185" width="1" height="28" fill="#ff0000"/>
<rect x="370" y="186" width="3" height="9" fill="#ff0000"/>
<rect x="375" y="189" width="1" height="27" fill="#ff0000"/>
<rect x="374" y="194" width="3" height="22" fill="#ff0000"/>
<rect x="379" y="196" width="1" height="24" fill="#1e90ff"/>
<rect x="378" y="199" width="3" height="17" fill="#1e90ff"/>
<rect x="383" y="188" width="1" height="13" fill="#1e90ff"/>
<rect x="382" y="188" width="3" height="12" fill="#1e90ff"/>
<rect x="387" y="181" width="1" height="16" fill="#ff0000"/>
<rect x="386" y="188" width="3" height="2" fill="#ff0000"/>
<rect x="391" y="181" width="1" height="13" fill="#1e90ff"/>
<rect x="390" y="184" width="3" height="6" fill="#1e90ff"/>
<rect x="395" y="182" width="1" height="11" fill="#1e90ff"/>
<rect x="394" y="182" width="3" height="3" fill="#1e90ff"/>
<rect x="399" y="177" width="1" height="10" fill="#ff0000"/>
<rect x="398" y="182" width="3" height="3" fill="#ff0000"/>
<rect x="403" y="180" width="1" height="11" fill="#1e90ff"/>
<rect x="402" y="181" width="3" height="4" fill="#1e90ff"/>
<rect x="407" y="180" width="1" height="8" fill="#ff0000"/>
<rect x="406" y="181" width="3" height="5" fill="#ff0000"/>
<rect x="411" y="182" width="1" height="9" fill="#ff0000"/>
<rect x="410" y="185" width="3" height="3" fill="#ff0000"/>
<rect x="415" y="183" width="1" height="7" fill="#1e90ff"/>
<rect x="414" y="184" width="3" height="4" fill="#1e90ff"/>
<rect x="419" y="183" width="1" height="7" fill="#ff0000"/>
<rect x="418" y="184" width="3" height="2" fill="#ff0000"/>
<rect x="423" y="176" width="1" height="10" fill="#1e90ff"/>
<rect x="422" y="183" width="3" height="3" fill="#1e90ff"/>
<rect x="427" y="177" width="1" height="9" fill="#1e90ff"/>
<rect x="426" y="180" width="3" height="4" fill="#1e90ff"/>
<rect x="431" y="177" width="1" height="6" fill="#1e90ff"/>
<rect x="430" y="179" width="3" height="2" fill="#1e90ff"/>
<rect x="435" y="179" width="1" height="7" fill="#ff0000"/>
<rect x="434" y="179" width="3" height="7" fill="#ff0000"/>
<rect x="439" y="182" width="1" height="9" fill="#ff0000"/>
<rect x="438" y="185" width="3" height="5" fill="#ff0000"/>
<rect x="443" y="188" width="1" height="16" fill="#ff0000"/>
<rect x="442" y="188" width="3" height="12" fill="#ff0000"/>
<rect x="447" y="196" width="1" height="17" fill="#ff0000"/>
<rect x="446" y="199" width="3" height="14" fill="#ff0000"/>
<rect x="451" y="208" width="1" height="13" fill="#ff0000"/>
<rect x="450" y="212" width="3" height="9" fill="#ff0000"/>
<rect x="455" y="219" width="1" height="32" fill="#ff0000"/>
<rect x="454" y="220" width="3" height="31" fill="#ff0000"/>
<rect x="459" y="245" width="1" height="18" fill="#ff0000"/>
<rect x="458" y="250" width="3" height="7" fill="#ff0000"/>
<rect x="463" y="254" width="1" height="22" fill="#ff0000"/>
<rect x="462" y="255" width="3" height="14" fill="#ff0000"/>
<rect x="467" y="257" width="1" height="16" fill="#1e90ff"/>
<rect x="466" y="265" width="3" height="4" fill="#1e90ff"/>
<rect x="471" y="256" width="1" height="28" fill="#ff0000"/>
<rect x="470" y="265" width="3" height="11" fill="#ff0000"/>
<rect x="475" y="266" width="1" height="17" fill="#1e90ff"/>
<rect x="474" y="275" width="3" height="2" fill="#1e90ff"/>
<rect x="479" y="263" width="1" height="17" fill="#ff0000"/>
<rect x="478" y="276" width="3" height="3" fill="#ff0000"/>
<rect x="483" y="267" width="1" height="16" fill="#1e90ff"/>
<rect x="482" y="268" width="3" height="11" fill="#1e90ff"/>
<rect x="487" y="253" width="1" height="20" fill="#1e90ff"/>
<rect x="486" y="263" width="3" height="5" fill="#1e90ff"/>
<rect x="491" y="258" width="1" height="12" fill="#1e90ff"/>
<rect x="490" y="262" width="3" height="2" fill="#1e90ff"/>
<rect x="495" y="258" width="1" height="11" fill="#ff0000"/>
<rect x="494" y="262" width="3" height="2" fill="#ff0000"/>
<rect x="499" y="258" width="1" height="8" fill="#1e90ff"/>
<rect x="498" y="259" width="3" height="5" fill="#1e90ff"/>
<rect x="503" y="252" width="1" height="9" fill="#1e90ff"/>
<rect x="502" y="255" width="3" height="6" fill="#1e90ff"/>
<rect x="507" y="252" width="1" height="7" fill="#1e90ff"/>
<rect x="506" y="254" width="3" height="2" fill="#1e90ff"/>
<rect x="511" y="255" width="1" height="13" fill="#ff0000"/>
<rect x="510" y="255" width="3" height="12" fill="#ff0000"/>
<rect x="515" y="258" width="1" height="12" fill="#1e90ff"/>
<rect x="514" y="262" width="3" height="4" fill="#1e90ff"/>
<rect x="519" y="253" width="1" height="11" fill="#1e90ff"/>
<rect x="518" y="257" width="3" height="6" fill="#1e90ff"/>
<rect x="523" y="250" width="1" height="7" fill="#1e90ff"/>
<rect x="522" y="250" width="3" height="7" fill="#1e90ff"/>
<rect x="527" y="247" width="1" height="5" fill="#1e90ff"/>
<rect x="526" y="248" width="3" height="4" fill="#1e90ff"/>
<rect x="531" y="242" width="1" height="7" fill="#1e90ff"/>
<rect x="530" y="244" width="3" height="5" fill="#1e90ff"/>
<rect x="535" y="244" width="1" height="18" fill="#ff0000"/>
<rect x="534" y="244" width="3" height="18" fill="#ff0000"/>
<rect x="539" y="254" width="1" height="25" fill="#ff0000"/>
<rect x="538" y="261" width="3" height="17" fill="#ff0000"/>
<rect x="543" y="266" width="1" height="18" fill="#1e90ff"/>
<rect x="542" y="275" width="3" height="3" fill="#1e90ff"/>
<rect x="547" y="255" width="1" height="21" fill="#1e90ff"/>
<rect x="546" y="265" width="3" height="11" fill="#1e90ff"/>
<rect x="551" y="254" width="1" height="14" fill="#1e90ff"/>
<rect x="550" y="262" width="3" height="4" fill="#1e90ff"/>
<rect x="555" y="260" width="1" height="18" fill="#ff0000"/>
<rect x="554" y="262" width="3" height="11" fill="#ff0000"/>
<rect x="559" y="269" width="1" height="26" fill="#ff0000"/>
<rect x="558" y="273" width="3" height="22" fill="#ff0000"/>
<rect x="563" y="287" width="1" height="25" fill="#ff0000"/>
<rect x="562" y="294" width="3" height="12" fill="#ff0000"/>
<rect x="567" y="295" width="1" height="31" fill="#ff0000"/>
<rect x="566" y="305" width="3" height="19" fill="#ff0000"/>
<rect x="571" y="318" width="1" height="23" fill="#ff0000"/>
<rect x="570" y="323" width="3" height="17" fill="#ff0000"/>
<rect x="575" y="331" width="1" height="21" fill="#ff0000"/>
<rect x="574" y="339" width="3" height="12" fill="#ff0000"/>
<rect x="579" y="330" width="1" height="24" fill="#1e90ff"/>
<rect x="578" y="332" width="3" height="19" fill="#1e90ff"/>
<rect x="583" y="314" width="1" height="32" fill="#1e90ff"/>
<rect x="582" y="321" width="3" height="12" fill="#1e90ff"/>
<rect x="587" y="308" width="1" height="23" fill="#1e90ff"/>
<rect x="586" y="308" width="3" height="14" fill="#1e90ff"/>
<rect x="591" y="302" width="1" height="9" fill="#1e90ff"/>
<rect x="590" y="304" width="3" height="6" fill="#1e90ff"/>
<rect x="595" y="301" width="1" height="7" fill="#1e90ff"/>
<rect x="594" y="303" width="3" height="2" fill="#1e90ff"/>
<rect x="599" y="293" width="1" height="12" fill="#1e90ff"/>
<rect x="598" y="294" width="3" height="10" fill="#1e90ff"/>
<rect x="603" y="271" width="1" height="24" fill="#1e90ff"/>
<rect x="602" y="289" width="3" height="6" fill="#1e90ff"/>
<rect x="607" y="286" width="1" height="24" fill="#ff0000"/>
<rect x="606" y="288" width="3" height="21" fill="#ff0000"/>
<rect x="611" y="299" width="1" height="17" fill="#1e90ff"/>
<rect x="610" y="304" width="3" height="5" fill="#1e90ff"/>
<rect x="615" y="300" width="1" height="20" fill="#ff0000"/>
<rect x="614" y="304" width="3" height="14" fill="#ff0000"/>
<rect x="619" y="303" width="1" height="16" fill="#1e90ff"/>
<rect x="618" y="310" width="3" height="8" fill="#1e90ff"/>
<rect x="623" y="305" width="1" height="10" fill="#ff0000"/>
<rect x="622" y="310" width="3" height="1" fill="#ff0000"/>
<rect x="627" y="305" width="1" height="7" fill="#1e90ff"/>
<rect x="626" y="308" width="3" height="3" fill="#1e90ff"/>
<rect x="631" y="287" width="1" height="22" fill="#1e90ff"/>
<rect x="630" y="297" width="3" height="12" fill="#1e90ff"/>
<rect x="635" y="292" width="1" height="42" fill="#ff0000"/>
<rect x="634" y="297" width="3" height="37" fill="#ff0000"/>
<rect x="639" y="313" width="1" height="36" fill="#ff0000"/>
<rect x="638" y="333" width="3" height="5" fill="#ff0000"/>
<rect x="643" y="323" width="1" height="24" fill="#ff0000"/>
<rect x="642" y="337" width="3" height="7" fill="#ff0000"/>
<rect x="647" y="342" width="1" height="21" fill="#ff0000"/>
<rect x="646" y="343" width="3" height="20" fill="#ff0000"/>
<rect x="651" y="352" width="1" height="35" fill="#ff0000"/>
<rect x="650" y="362" width="3" height="16" fill="#ff0000"/>
<rect x="655" y="336" width="1" height="53" fill="#1e90ff"/>
<rect x="654" y="355" width="3" height="23" fill="#1e90ff"/>
<rect x="659" y="339" width="1" height="24" fill="#1e90ff"/>
<rect x="658" y="352" width="3" height="4" fill="#1e90ff"/>
<rect x="663" y="346" width="1" height="17" fill="#ff0000"/>
<rect x="662" y="353" width="3" height="5" fill="#ff0000"/>
<rect x="667" y="354" width="1" height="48" fill="#ff0000"/>
<rect x="666" y="357" width="3" height="45" fill="#ff0000"/>
<rect x="671" y="393" width="1" height="26" fill="#ff0000"/>
<rect x="670" y="401" width="3" height="18" fill="#ff0000"/>
<rect x="675" y="398" width="1" height="24" fill="#1e90ff"/>
<rect x="674" y="408" width="3" height="9" fill="#1e90ff"/>
<rect x="679" y="401" width="1" height="19" fill="#ff0000"/>
<rect x="678" y="408" width="3" height="8" fill="#ff0000"/>
<rect x="683" y="404" width="1" height="15" fill="#1e90ff"/>
<rect x="682" y="410" width="3" height="6" fill="#1e90ff"/>
<rect x="687" y="398" width="1" height="14" fill="#1e90ff"/>
<rect x="686" y="406" width="3" height="4" fill="#1e90ff"/>
<rect x="691" y="404" width="1" height="18" fill="#ff0000"/>
<rect x="690" y="407" width="3" height="13" fill="#ff0000"/>
<rect x="695" y="414" width="1" height="8" fill="#1e90ff"/>
<rect x="694" y="417" width="3" height="3" fill="#1e90ff"/>
<rect x="699" y="415" width="1" height="7" fill="#ff0000"/>
<rect x="698" y="417" width="3" height="5" fill="#ff0000"/>
<rect x="703" y="412" width="1" height="11" fill="#1e90ff"/>
<rect x="702" y="417" width="3" height="5" fill="#1e90ff"/>
<rect x="707" y="380" width="1" height="37" fill="#1e90ff"/>
<rect x="706" y="391" width="3" height="26" fill="#1e90ff"/>
<rect x="711" y="378" width="1" height="19" fill="#1e90ff"/>
<rect x="710" y="384" width="3" height="8" fill="#1e90ff"/>
<rect x="715" y="380" width="1" height="14" fill="#1e90ff"/>
<rect x="714" y="384" width="3" height="1" fill="#1e90ff"/>
<rect x="719" y="371" width="1" height="18" fill="#1e90ff"/>
<rect x="718" y="371" width="3" height="13" fill="#1e90ff"/>
<rect x="723" y="369" width="1" height="13" fill="#ff0000"/>
<rect x="722" y="370" width="3" height="6" fill="#ff0000"/>
<rect x="727" y="364" width="1" height="18" fill="#1e90ff"/>
<rect x="726" y="367" width="3" height="10" fill="#1e90ff"/>
<polyline points="2,178.25 20,175.25 40,172.25 60,167.85 80,163.25 100,159.85 120,156.25 140,153.85 160,150.25 190,147.65 220,146.25 250,145.25 320,145.05 400,145.45 440,145.25 460,145.85 480,148.25 500,149.85 520,151.85 540,154.25 560,157.85 580,161.25 600,166.25 620,171.25 630,174.25 650,179.25 670,186.25 690,195.25 710,203.25 720,209.75 728.5,211.25" fill="none" stroke="#ff0000" stroke-width="2" stroke-linejoin="round"/>
<polyline points="2,129.25 20,126.85 40,122.25 60,117.85 80,113.25 100,109.65 120,107.85 140,106.25 160,104.65 180,104.65 183,104.85 200,108.25 220,111.85 240,115.25 260,119.85 280,126.85 300,134.25 311,138.25 320,142.25 340,148.25 360,152.85 380,157.25 400,162.25 420,165.25 440,168.85 460,174.25 480,182.45 500,188.25 520,193.25 540,200.25 560,207.65 580,217.85 600,225.25 620,229.85 630,234.25 650,242.25 670,250.85 690,260.85 710,270.25 728.5,279.75" fill="none" stroke="#000" stroke-width="2" stroke-linejoin="round"/>
<rect x="8" y="257" width="741" height="1" fill="#006400"/>
<rect x="3.5" y="255.5" width="4" height="4" fill="#fff" stroke="#006400" stroke-width="1"/>
<rect x="749.5" y="255.5" width="4" height="4" fill="#fff" stroke="#006400" stroke-width="1"/>
<rect x="8" y="273" width="741" height="1" fill="#006400"/>
<rect x="3.5" y="271.5" width="4" height="4" fill="#fff" stroke="#006400" stroke-width="1"/>
<rect x="749.5" y="271.5" width="4" height="4" fill="#fff" stroke="#006400" stroke-width="1"/>
<rect x="8" y="288" width="741" height="1" fill="#006400"/>
<rect x="3.5" y="286.5" width="4" height="4" fill="#fff" stroke="#006400" stroke-width="1"/>
<rect x="749.5" y="286.5" width="4" height="4" fill="#fff" stroke="#006400" stroke-width="1"/>
<rect x="8" y="420" width="741" height="1" fill="#ff0000"/>
<rect x="3.5" y="418.5" width="4" height="4" fill="#fff" stroke="#ff0000" stroke-width="1"/>
<rect x="749.5" y="418.5" width="4" height="4" fill="#fff" stroke="#ff0000" stroke-width="1"/>
<rect x="8" y="426" width="741" height="1" fill="#ff0000"/>
<rect x="3.5" y="424.5" width="4" height="4" fill="#fff" stroke="#ff0000" stroke-width="1"/>
<rect x="749.5" y="424.5" width="4" height="4" fill="#fff" stroke="#ff0000" stroke-width="1"/>
<rect x="8" y="434" width="741" height="1" fill="#ff0000"/>
<rect x="3.5" y="432.5" width="4" height="4" fill="#fff" stroke="#ff0000" stroke-width="1"/>
<rect x="749.5" y="432.5" width="4" height="4" fill="#fff" stroke="#ff0000" stroke-width="1"/>
<rect x="3" y="469" width="2" height="23" fill="#ff0000"/>
<rect x="6" y="469" width="3" height="27" fill="#ff0000"/>
<rect x="10" y="469" width="3" height="33" fill="#ff0000"/>
<rect x="14" y="469" width="3" height="35" fill="#ff0000"/>
<rect x="18" y="469" width="3" height="39" fill="#ff0000"/>
<rect x="22" y="469" width="3" height="39" fill="#ff0000"/>
<rect x="26" y="469" width="3" height="35" fill="#008000"/>
<rect x="30" y="469" width="3" height="31" fill="#008000"/>
<rect x="34" y="469" width="3" height="27" fill="#008000"/>
<rect x="38" y="469" width="3" height="23" fill="#008000"/>
<rect x="42" y="469" width="3" height="20" fill="#008000"/>
<rect x="46" y="469" width="3" height="17" fill="#008000"/>
<rect x="50" y="469" width="3" height="13" fill="#008000"/>
<rect x="54" y="469" width="3" height="7" fill="#008000"/>
<rect x="58" y="469" width="3" height="1" fill="#008000"/>
<rect x="62" y="469" width="3" height="5" fill="#ff0000"/>
<rect x="66" y="469" width="3" height="9" fill="#ff0000"/>
<rect x="70" y="469" width="3" height="14" fill="#ff0000"/>
<rect x="74" y="469" width="3" height="12" fill="#008000"/>
<rect x="78" y="469" width="3" height="11" fill="#008000"/>
<rect x="82" y="469" width="3" height="7" fill="#008000"/>
<rect x="86" y="469" width="3" height="4" fill="#008000"/>
<rect x="90" y="469" width="3" height="9" fill="#ff0000"/>
<rect x="94" y="469" width="3" height="18" fill="#ff0000"/>
<rect x="98" y="469" width="3" height="25" fill="#ff0000"/>
<rect x="102" y="469" width="3" height="26" fill="#ff0000"/>
<rect x="106" y="469" width="3" height="27" fill="#ff0000"/>
<rect x="110" y="469" width="3" height="29" fill="#ff0000"/>
<rect x="114" y="469" width="3" height="29" fill="#ff0000"/>
<rect x="118" y="469" width="3" height="31" fill="#ff0000"/>
<rect x="122" y="469" width="3" height="33" fill="#ff0000"/>
<rect x="126" y="469" width="3" height="31" fill="#008000"/>
<rect x="130" y="469" width="3" height="29" fill="#008000"/>
<rect x="134" y="469" width="3" height="18" fill="#008000"/>
<rect x="138" y="469" width="3" height="10" fill="#008000"/>
<rect x="142" y="469" width="3" height="6" fill="#008000"/>
<rect x="146" y="469" width="3" height="7" fill="#ff0000"/>
<rect x="150" y="469" width="3" height="8" fill="#ff0000"/>
<rect x="154" y="469" width="3" height="8" fill="#ff0000"/>
<rect x="158" y="469" width="3" height="5" fill="#008000"/>
<rect x="162" y="469" width="3" height="12" fill="#ff0000"/>
<rect x="166" y="469" width="3" height="20" fill="#ff0000"/>
<rect x="170" y="469" width="3" height="27" fill="#ff0000"/>
<rect x="174" y="469" width="3" height="30" fill="#ff0000"/>
<rect x="178" y="469" width="3" height="36" fill="#ff0000"/>
<rect x="182" y="469" width="3" height="34" fill="#008000"/>
<rect x="186" y="469" width="3" height="51" fill="#ff0000"/>
<rect x="190" y="469" width="3" height="73" fill="#ff0000"/>
<rect x="194" y="469" width="3" height="73" fill="#008000"/>
<rect x="198" y="469" width="3" height="64" fill="#008000"/>
<rect x="202" y="469" width="3" height="58" fill="#008000"/>
<rect x="206" y="469" width="3" height="53" fill="#008000"/>
<rect x="210" y="469" width="3" height="50" fill="#008000"/>
<rect x="214" y="469" width="3" height="49" fill="#008000"/>
<rect x="218" y="469" width="3" height="46" fill="#008000"/>
<rect x="222" y="469" width="3" height="41" fill="#008000"/>
<rect x="226" y="469" width="3" height="41" fill="#008000"/>
<rect x="230" y="469" width="3" height="36" fill="#008000"/>
<rect x="234" y="469" width="3" height="28" fill="#008000"/>
<rect x="238" y="469" width="3" height="21" fill="#008000"/>
<rect x="242" y="469" width="3" height="16" fill="#008000"/>
<rect x="246" y="469" width="3" height="15" fill="#008000"/>
<rect x="250" y="469" width="3" height="15" fill="#ff0000"/>
<rect x="254" y="469" width="3" height="18" fill="#ff0000"/>
<rect x="258" y="469" width="3" height="15" fill="#008000"/>
<rect x="262" y="469" width="3" height="21" fill="#ff0000"/>
<rect x="266" y="469" width="3" height="25" fill="#ff0000"/>
<rect x="270" y="469" width="3" height="28" fill="#ff0000"/>
<rect x="274" y="469" width="3" height="39" fill="#ff0000"/>
<rect x="278" y="469" width="3" height="42" fill="#ff0000"/>
<rect x="282" y="469" width="3" height="46" fill="#ff0000"/>
<rect x="286" y="469" width="3" height="55" fill="#ff0000"/>
<rect x="290" y="469" width="3" height="58" fill="#ff0000"/>
<rect x="294" y="469" width="3" height="59" fill="#ff0000"/>
<rect x="298" y="469" width="3" height="60" fill="#ff0000"/>
<rect x="302" y="469" width="3" height="51" fill="#008000"/>
<rect x="306" y="469" width="3" height="47" fill="#008000"/>
<rect x="310" y="469" width="3" height="33" fill="#008000"/>
<rect x="314" y="469" width="3" height="24" fill="#008000"/>
<rect x="318" y="469" width="3" height="25" fill="#ff0000"/>
<rect x="322" y="469" width="3" height="28" fill="#ff0000"/>
<rect x="326" y="469" width="3" height="30" fill="#ff0000"/>
<rect x="330" y="469" width="3" height="25" fill="#008000"/>
<rect x="334" y="469" width="3" height="21" fill="#008000"/>
<rect x="338" y="469" width="3" height="21" fill="#008000"/>
<rect x="342" y="469" width="3" height="16" fill="#008000"/>
<rect x="346" y="469" width="3" height="5" fill="#008000"/>
<rect x="350" y="457" width="3" height="12" fill="#008000"/>
<rect x="354" y="453" width="3" height="16" fill="#008000"/>
<rect x="358" y="457" width="3" height="12" fill="#ff0000"/>
<rect x="362" y="455" width="3" height="14" fill="#008000"/>
<rect x="366" y="458" width="3" height="11" fill="#ff0000"/>
<rect x="370" y="464" width="3" height="5" fill="#ff0000"/>
<rect x="374" y="469" width="3" height="9" fill="#ff0000"/>
<rect x="378" y="469" width="3" height="10" fill="#ff0000"/>
<rect x="382" y="469" width="3" height="5" fill="#008000"/>
<rect x="386" y="469" width="3" height="2" fill="#008000"/>
<rect x="390" y="467" width="3" height="2" fill="#008000"/>
<rect x="394" y="464" width="3" height="5" fill="#008000"/>
<rect x="398" y="463" width="3" height="6" fill="#008000"/>
<rect x="402" y="462" width="3" height="7" fill="#008000"/>
<rect x="406" y="462" width="3" height="7" fill="#ff0000"/>
<rect x="410" y="464" width="3" height="5" fill="#ff0000"/>
<rect x="414" y="464" width="3" height="5" fill="#008000"/>
<rect x="418" y="464" width="3" height="5" fill="#ff0000"/>
<rect x="422" y="464" width="3" height="5" fill="#008000"/>
<rect x="426" y="462" width="3" height="7" fill="#008000"/>
<rect x="430" y="461" width="3" height="8" fill="#008000"/>
<rect x="434" y="463" width="3" height="6" fill="#ff0000"/>
<rect x="438" y="465" width="3" height="4" fill="#ff0000"/>
<rect x="442" y="469" width="3" height="3" fill="#ff0000"/>
<rect x="446" y="469" width="3" height="13" fill="#ff0000"/>
<rect x="450" y="469" width="3" height="22" fill="#ff0000"/>
<rect x="454" y="469" width="3" height="40" fill="#ff0000"/>
<rect x="458" y="469" width="3" height="54" fill="#ff0000"/>
<rect x="462" y="469" width="3" height="66" fill="#ff0000"/>
<rect x="466" y="469" width="3" height="71" fill="#ff0000"/>
<rect x="470" y="469" width="3" height="78" fill="#ff0000"/>
<rect x="474" y="469" width="3" height="81" fill="#ff0000"/>
<rect x="478" y="469" width="3" height="82" fill="#ff0000"/>
<rect x="482" y="469" width="3" height="77" fill="#008000"/>
<rect x="486" y="469" width="3" height="70" fill="#008000"/>
<rect x="490" y="469" width="3" height="64" fill="#008000"/>
<rect x="494" y="469" width="3" height="60" fill="#008000"/>
<rect x="498" y="469" width="3" height="54" fill="#008000"/>
<rect x="502" y="469" width="3" height="48" fill="#008000"/>
<rect x="506" y="469" width="3" height="43" fill="#008000"/>
<rect x="510" y="469" width="3" height="44" fill="#ff0000"/>
<rect x="514" y="469" width="3" height="42" fill="#008000"/>
<rect x="518" y="469" width="3" height="38" fill="#008000"/>
<rect x="522" y="469" width="3" height="31" fill="#008000"/>
<rect x="526" y="469" width="3" height="26" fill="#008000"/>
<rect x="530" y="469" width="3" height="21" fill="#008000"/>
<rect x="534" y="469" width="3" height="24" fill="#ff0000"/>
<rect x="538" y="469" width="3" height="32" fill="#ff0000"/>
<rect x="542" y="469" width="3" height="36" fill="#ff0000"/>
<rect x="546" y="469" width="3" height="33" fill="#008000"/>
<rect x="550" y="469" width="3" height="30" fill="#008000"/>
<rect x="554" y="469" width="3" height="32" fill="#ff0000"/>
<rect x="558" y="469" width="3" height="41" fill="#ff0000"/>
<rect x="562" y="469" width="3" height="52" fill="#ff0000"/>
<rect x="566" y="469" width="3" height="65" fill="#ff0000"/>
<rect x="570" y="469" width="3" height="79" fill="#ff0000"/>
<rect x="574" y="469" width="3" height="91" fill="#ff0000"/>
<rect x="578" y="469" width="3" height="89" fill="#008000"/>
<rect x="582" y="469" width="3" height="81" fill="#008000"/>
<rect x="586" y="469" width="3" height="70" fill="#008000"/>
<rect x="590" y="469" width="3" height="59" fill="#008000"/>
<rect x="594" y="469" width="3" height="51" fill="#008000"/>
<rect x="598" y="469" width="3" height="41" fill="#008000"/>
<rect x="602" y="469" width="3" height="31" fill="#008000"/>
<rect x="606" y="469" width="3" height="33" fill="#ff0000"/>
<rect x="610" y="469" width="3" height="31" fill="#008000"/>
<rect x="614" y="469" width="3" height="36" fill="#ff0000"/>
<rect x="618" y="469" width="3" height="36" fill="#008000"/>
<rect x="622" y="469" width="3" height="33" fill="#008000"/>
<rect x="626" y="469" width="3" height="32" fill="#008000"/>
<rect x="630" y="469" width="3" height="25" fill="#008000"/>
<rect x="634" y="469" width="3" height="36" fill="#ff0000"/>
<rect x="638" y="469" width="3" height="44" fill="#ff0000"/>
<rect x="642" y="469" width="3" height="50" fill="#ff0000"/>
<rect x="646" y="469" width="3" height="62" fill="#ff0000"/>
<rect x="650" y="469" width="3" height="74" fill="#ff0000"/>
<rect x="654" y="469" width="3" height="71" fill="#008000"/>
<rect x="658" y="469" width="3" height="67" fill="#008000"/>
<rect x="662" y="469" width="3" height="65" fill="#008000"/>
<rect x="666" y="469" width="3" height="81" fill="#ff0000"/>
<rect x="670" y="469" width="3" height="97" fill="#ff0000"/>
<rect x="674" y="469" width="3" height="101" fill="#ff0000"/>
<rect x="678" y="469" width="3" height="105" fill="#ff0000"/>
<rect x="682" y="469" width="3" height="103" fill="#008000"/>
<rect x="686" y="469" width="3" height="98" fill="#008000"/>
<rect x="690" y="469" width="3" height="100" fill="#ff0000"/>
<rect x="694" y="469" width="3" height="96" fill="#008000"/>
<rect x="698" y="469" width="3" height="95" fill="#008000"/>
<rect x="702" y="469" width="3" height="89" fill="#008000"/>
<rect x="706" y="469" width="3" height="75" fill="#008000"/>
<rect x="710" y="469" width="3" height="61" fill="#008000"/>
<rect x="714" y="469" width="3" height="51" fill="#008000"/>
<rect x="718" y="469" width="3" height="38" fill="#008000"/>
<rect x="722" y="469" width="3" height="31" fill="#008000"/>
<polyline points="3,481.25 10,487 20,497.5 25,503 30,504.4 35,502.5 45,497 50,493 55,488.75 62,478.75 65,475.6 70,475.25 75,476 82,479.4 90,477.5 96,479.2 106,488.3 116,495 126,498.3 131,499.7 136,497.5 141,492.5 146,486.7 151,480 156,476.7 161,475.5 166,479.2 176,490 186,501.7 192,515 197,522.5 202,530 205,532.2 208,531.7 212,528.3 217,521.7 222,517.5 227,514.2 232,510.8 237,505.8 242,500 247,493.3 252,487.5 257,485 262,485 267,487.5 272,492.5 277,498.3 282,503.3 288,511.7 293,517.5 298,523.3 303,525.3 308,523.3 313,516.7 318,506.7 323,499.2 328,495.8 333,494.2 338,493.7 343,490.8 348,483.3 353,473.3 358,465.8 363,459.2 368,456.5 373,459.2 378,464.1 383,469.1 388,472.25 392,473.5 398,471 404,466 410,463.75 420,463.75 430,462.5 436,462.5 442,464.2 447,468.3 452,476.7 457,488.3 462,500.8 467,515 472,528.3 477,538.3 482,545 485,545.8 492,543.3 497,538.3 502,530 507,522.5 512,517.5 517,513.3 522,510 528,503.3 533,498 538,495.3 543,495.8 548,497.5 553,500 558,502.5 563,505.8 568,513.3 573,526.7 578,540 583,549.5 588,550.5 593,545 598,534.2 603,521 608,512.5 613,506.7 618,503.7 623,503 630,501.4 636,501.4 640,504 646,512 650,520 655,529 660,534.4 665,538 670,542 675,551 680,561 685,567 690,569 695,569 700,566 705,563 710,556 715,544 720,531 725,517 727,511" fill="none" stroke="#000" stroke-width="1" stroke-linejoin="round"/>
<rect x="2" y="2" width="753" height="1" fill="#000"/>
<rect x="2" y="2" width="1" height="443" fill="#000"/>
<rect x="754" y="2" width="1" height="443" fill="#000"/>
<rect x="2" y="444" width="753" height="1" fill="#000"/>
<rect x="2" y="446" width="753" height="1" fill="#000"/>
<rect x="2" y="446" width="1" height="134" fill="#000"/>
<rect x="754" y="446" width="1" height="134" fill="#000"/>
<rect x="2" y="579" width="753" height="1" fill="#000"/>
<rect x="755" y="12" width="2" height="1" fill="#000"/>
<text transform="translate(759.5,16) scale(0.87,1)" x="0" y="0" fill="#000" font-size="10" letter-spacing="0.36" text-rendering="geometricPrecision" >1.15450</text>
<rect x="755" y="45" width="2" height="1" fill="#000"/>
<text transform="translate(759.5,49) scale(0.87,1)" x="0" y="0" fill="#000" font-size="10" letter-spacing="0.36" text-rendering="geometricPrecision" >1.14730</text>
<rect x="755" y="78" width="2" height="1" fill="#000"/>
<text transform="translate(759.5,82) scale(0.87,1)" x="0" y="0" fill="#000" font-size="10" letter-spacing="0.36" text-rendering="geometricPrecision" >1.14010</text>
<rect x="755" y="111" width="2" height="1" fill="#000"/>
<text transform="translate(759.5,115) scale(0.87,1)" x="0" y="0" fill="#000" font-size="10" letter-spacing="0.36" text-rendering="geometricPrecision" >1.13290</text>
<rect x="755" y="144" width="2" height="1" fill="#000"/>
<text transform="translate(759.5,148) scale(0.87,1)" x="0" y="0" fill="#000" font-size="10" letter-spacing="0.36" text-rendering="geometricPrecision" >1.12570</text>
<rect x="755" y="177" width="2" height="1" fill="#000"/>
<text transform="translate(759.5,181) scale(0.87,1)" x="0" y="0" fill="#000" font-size="10" letter-spacing="0.36" text-rendering="geometricPrecision" >1.11850</text>
<rect x="755" y="210" width="2" height="1" fill="#000"/>
<text transform="translate(759.5,214) scale(0.87,1)" x="0" y="0" fill="#000" font-size="10" letter-spacing="0.36" text-rendering="geometricPrecision" >1.11130</text>
<rect x="755" y="243" width="2" height="1" fill="#000"/>
<text transform="translate(759.5,247) scale(0.87,1)" x="0" y="0" fill="#000" font-size="10" letter-spacing="0.36" text-rendering="geometricPrecision" >1.10410</text>
<rect x="755" y="276" width="2" height="1" fill="#000"/>
<text transform="translate(759.5,280) scale(0.87,1)" x="0" y="0" fill="#000" font-size="10" letter-spacing="0.36" text-rendering="geometricPrecision" >1.09690</text>
<rect x="755" y="309" width="2" height="1" fill="#000"/>
<text transform="translate(759.5,313) scale(0.87,1)" x="0" y="0" fill="#000" font-size="10" letter-spacing="0.36" text-rendering="geometricPrecision" >1.08970</text>
<rect x="755" y="342" width="2" height="1" fill="#000"/>
<text transform="translate(759.5,346) scale(0.87,1)" x="0" y="0" fill="#000" font-size="10" letter-spacing="0.36" text-rendering="geometricPrecision" >1.08250</text>
<rect x="755" y="375" width="2" height="1" fill="#000"/>
<text transform="translate(759.5,379) scale(0.87,1)" x="0" y="0" fill="#000" font-size="10" letter-spacing="0.36" text-rendering="geometricPrecision" >1.07550</text>
<rect x="755" y="408" width="2" height="1" fill="#000"/>
<text transform="translate(759.5,412) scale(0.87,1)" x="0" y="0" fill="#000" font-size="10" letter-spacing="0.36" text-rendering="geometricPrecision" >1.06830</text>
<rect x="755" y="441" width="2" height="1" fill="#000"/>
<text transform="translate(759.5,445) scale(0.87,1)" x="0" y="0" fill="#000" font-size="10" letter-spacing="0.36" text-rendering="geometricPrecision" >1.06110</text>
<rect x="756" y="251" width="41" height="11" fill="#006400"/>
<text transform="translate(759.5,260) scale(0.87,1)" x="0" y="0" fill="#fff" font-size="10" letter-spacing="0.36" text-rendering="geometricPrecision" stroke="#fff" stroke-width="0.25">1.10120</text>
<rect x="756" y="267" width="41" height="11" fill="#006400"/>
<text transform="translate(759.5,276) scale(0.87,1)" x="0" y="0" fill="#fff" font-size="10" letter-spacing="0.36" text-rendering="geometricPrecision" stroke="#fff" stroke-width="0.25">1.09760</text>
<rect x="756" y="282" width="41" height="11" fill="#006400"/>
<text transform="translate(759.5,291) scale(0.87,1)" x="0" y="0" fill="#fff" font-size="10" letter-spacing="0.36" text-rendering="geometricPrecision" stroke="#fff" stroke-width="0.25">1.09430</text>
<rect x="756" y="362" width="41" height="11" fill="#000"/>
<text transform="translate(759.5,371) scale(0.87,1)" x="0" y="0" fill="#fff" font-size="10" letter-spacing="0.36" text-rendering="geometricPrecision" stroke="#fff" stroke-width="0.25">1.07715</text>
<rect x="756" y="420" width="41" height="11" fill="#ff0000"/>
<text transform="translate(759.5,429) scale(0.87,1)" x="0" y="0" fill="#fff" font-size="10" letter-spacing="0.36" text-rendering="geometricPrecision" stroke="#fff" stroke-width="0.25">1.06430</text>
<rect x="756" y="414" width="41" height="11" fill="#ff0000"/>
<text transform="translate(759.5,423) scale(0.87,1)" x="0" y="0" fill="#fff" font-size="10" letter-spacing="0.36" text-rendering="geometricPrecision" stroke="#fff" stroke-width="0.25">1.06570</text>
<rect x="756" y="428" width="41" height="11" fill="#ff0000"/>
<text transform="translate(759.5,437) scale(0.87,1)" x="0" y="0" fill="#fff" font-size="10" letter-spacing="0.36" text-rendering="geometricPrecision" stroke="#fff" stroke-width="0.25">1.06260</text>
<rect x="755" y="448" width="2" height="1" fill="#000"/>
<text transform="translate(758,457) scale(0.87,1)" x="0" y="0" fill="#000" font-size="10" letter-spacing="0.36" text-rendering="geometricPrecision" >0.0030719</text>
<rect x="755" y="469" width="2" height="1" fill="#000"/>
<text transform="translate(758,473) scale(0.87,1)" x="0" y="0" fill="#000" font-size="10" letter-spacing="0.36" text-rendering="geometricPrecision" >0.00</text>
<text transform="translate(758,576) scale(0.87,1)" x="0" y="0" fill="#000" font-size="10" letter-spacing="0.36" text-rendering="geometricPrecision" >-0.0153619</text>
<rect x="3" y="580" width="1" height="4" fill="#000"/>
<text transform="translate(3,592) scale(0.87,1)" x="0" y="0" fill="#000" font-size="10" letter-spacing="0.34" text-rendering="geometricPrecision" >10 Mar 2020</text>
<rect x="67" y="580" width="1" height="4" fill="#000"/>
<text transform="translate(67,592) scale(0.87,1)" x="0" y="0" fill="#000" font-size="10" letter-spacing="0.34" text-rendering="geometricPrecision" >11 Mar 10:00</text>
<rect x="131" y="580" width="1" height="4" fill="#000"/>
<text transform="translate(131,592) scale(0.87,1)" x="0" y="0" fill="#000" font-size="10" letter-spacing="0.34" text-rendering="geometricPrecision" >12 Mar 02:00</text>
<rect x="195" y="580" width="1" height="4" fill="#000"/>
<text transform="translate(195,592) scale(0.87,1)" x="0" y="0" fill="#000" font-size="10" letter-spacing="0.34" text-rendering="geometricPrecision" >12 Mar 18:00</text>
<rect x="259" y="580" width="1" height="4" fill="#000"/>
<text transform="translate(259,592) scale(0.87,1)" x="0" y="0" fill="#000" font-size="10" letter-spacing="0.34" text-rendering="geometricPrecision" >13 Mar 10:00</text>
<rect x="323" y="580" width="1" height="4" fill="#000"/>
<text transform="translate(323,592) scale(0.87,1)" x="0" y="0" fill="#000" font-size="10" letter-spacing="0.34" text-rendering="geometricPrecision" >16 Mar 03:00</text>
<rect x="387" y="580" width="1" height="4" fill="#000"/>
<text transform="translate(387,592) scale(0.87,1)" x="0" y="0" fill="#000" font-size="10" letter-spacing="0.34" text-rendering="geometricPrecision" >16 Mar 19:00</text>
<rect x="451" y="580" width="1" height="4" fill="#000"/>
<text transform="translate(451,592) scale(0.87,1)" x="0" y="0" fill="#000" font-size="10" letter-spacing="0.34" text-rendering="geometricPrecision" >17 Mar 11:00</text>
<rect x="515" y="580" width="1" height="4" fill="#000"/>
<text transform="translate(515,592) scale(0.87,1)" x="0" y="0" fill="#000" font-size="10" letter-spacing="0.34" text-rendering="geometricPrecision" >18 Mar 03:00</text>
<rect x="579" y="580" width="1" height="4" fill="#000"/>
<text transform="translate(579,592) scale(0.87,1)" x="0" y="0" fill="#000" font-size="10" letter-spacing="0.34" text-rendering="geometricPrecision" >18 Mar 19:00</text>
<rect x="643" y="580" width="1" height="4" fill="#000"/>
<text transform="translate(643,592) scale(0.87,1)" x="0" y="0" fill="#000" font-size="10" letter-spacing="0.34" text-rendering="geometricPrecision" >19 Mar 11:00</text>
<rect x="707" y="580" width="1" height="4" fill="#000"/>
<text transform="translate(707,592) scale(0.87,1)" x="0" y="0" fill="#000" font-size="10" letter-spacing="0.34" text-rendering="geometricPrecision" >20 Mar 03:00</text>
<polygon points="6,9 13,9 9.5,13" fill="#000"/>
<text transform="translate(18,14) scale(0.87,1)" x="0" y="0" fill="#000" font-size="10" letter-spacing="0.22" text-rendering="geometricPrecision" xml:space="preserve" style="white-space:pre">EURUSD,H1  1.07520 1.07788 1.07406 1.07715</text>
<text transform="translate(6.5,459) scale(0.87,1)" x="0" y="0" fill="#000" font-size="10" letter-spacing="0.33" text-rendering="geometricPrecision" >MACD_color(5,34,5) 0.00000000 0.00000000 -0.00551577</text>
</svg>
</body></html>
